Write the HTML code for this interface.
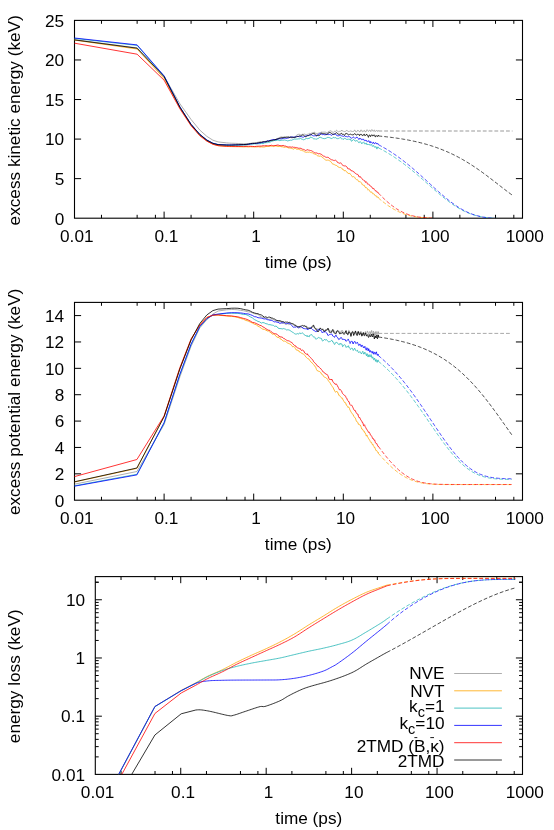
<!DOCTYPE html>
<html><head><meta charset="utf-8"><style>
html,body{margin:0;padding:0;background:#fff;}
svg{display:block;will-change:transform;}
</style></head><body>
<svg width="554" height="830" viewBox="0 0 554 830">
<rect width="554" height="830" fill="#fff"/>
<rect x="74.50" y="20.40" width="448.00" height="197.80" fill="none" stroke="#000" stroke-width="1.1"/>
<text x="76.80" y="241.50" font-family="Liberation Sans, sans-serif" font-size="17.2" text-anchor="middle">0.01</text>
<path d="M101.47,218.20 v-3.4 M101.47,20.40 v3.4" stroke="#000" stroke-width="1"/>
<path d="M137.13,218.20 v-3.4 M137.13,20.40 v3.4" stroke="#000" stroke-width="1"/>
<path d="M155.42,218.20 v-3.4 M155.42,20.40 v3.4" stroke="#000" stroke-width="1"/>
<path d="M164.10,218.20 v-6.6 M164.10,20.40 v6.6" stroke="#000" stroke-width="1"/>
<text x="166.40" y="241.50" font-family="Liberation Sans, sans-serif" font-size="17.2" text-anchor="middle">0.1</text>
<path d="M191.07,218.20 v-3.4 M191.07,20.40 v3.4" stroke="#000" stroke-width="1"/>
<path d="M226.73,218.20 v-3.4 M226.73,20.40 v3.4" stroke="#000" stroke-width="1"/>
<path d="M245.02,218.20 v-3.4 M245.02,20.40 v3.4" stroke="#000" stroke-width="1"/>
<path d="M253.70,218.20 v-6.6 M253.70,20.40 v6.6" stroke="#000" stroke-width="1"/>
<text x="256.00" y="241.50" font-family="Liberation Sans, sans-serif" font-size="17.2" text-anchor="middle">1</text>
<path d="M280.67,218.20 v-3.4 M280.67,20.40 v3.4" stroke="#000" stroke-width="1"/>
<path d="M316.33,218.20 v-3.4 M316.33,20.40 v3.4" stroke="#000" stroke-width="1"/>
<path d="M334.62,218.20 v-3.4 M334.62,20.40 v3.4" stroke="#000" stroke-width="1"/>
<path d="M343.30,218.20 v-6.6 M343.30,20.40 v6.6" stroke="#000" stroke-width="1"/>
<text x="345.60" y="241.50" font-family="Liberation Sans, sans-serif" font-size="17.2" text-anchor="middle">10</text>
<path d="M370.27,218.20 v-3.4 M370.27,20.40 v3.4" stroke="#000" stroke-width="1"/>
<path d="M405.93,218.20 v-3.4 M405.93,20.40 v3.4" stroke="#000" stroke-width="1"/>
<path d="M424.22,218.20 v-3.4 M424.22,20.40 v3.4" stroke="#000" stroke-width="1"/>
<path d="M432.90,218.20 v-6.6 M432.90,20.40 v6.6" stroke="#000" stroke-width="1"/>
<text x="435.20" y="241.50" font-family="Liberation Sans, sans-serif" font-size="17.2" text-anchor="middle">100</text>
<path d="M459.87,218.20 v-3.4 M459.87,20.40 v3.4" stroke="#000" stroke-width="1"/>
<path d="M495.53,218.20 v-3.4 M495.53,20.40 v3.4" stroke="#000" stroke-width="1"/>
<path d="M513.82,218.20 v-3.4 M513.82,20.40 v3.4" stroke="#000" stroke-width="1"/>
<text x="524.80" y="241.50" font-family="Liberation Sans, sans-serif" font-size="17.2" text-anchor="middle">1000</text>
<text x="64.20" y="224.50" font-family="Liberation Sans, sans-serif" font-size="17.2" text-anchor="end">0</text>
<path d="M74.50,178.64 h6.6 M522.50,178.64 h-6.6" stroke="#000" stroke-width="1"/>
<text x="64.20" y="184.94" font-family="Liberation Sans, sans-serif" font-size="17.2" text-anchor="end">5</text>
<path d="M74.50,139.08 h6.6 M522.50,139.08 h-6.6" stroke="#000" stroke-width="1"/>
<text x="64.20" y="145.38" font-family="Liberation Sans, sans-serif" font-size="17.2" text-anchor="end">10</text>
<path d="M74.50,99.52 h6.6 M522.50,99.52 h-6.6" stroke="#000" stroke-width="1"/>
<text x="64.20" y="105.82" font-family="Liberation Sans, sans-serif" font-size="17.2" text-anchor="end">15</text>
<path d="M74.50,59.96 h6.6 M522.50,59.96 h-6.6" stroke="#000" stroke-width="1"/>
<text x="64.20" y="66.26" font-family="Liberation Sans, sans-serif" font-size="17.2" text-anchor="end">20</text>
<text x="64.20" y="26.70" font-family="Liberation Sans, sans-serif" font-size="17.2" text-anchor="end">25</text>
<text transform="translate(20.00,120.30) rotate(-90)" font-family="Liberation Sans, sans-serif" font-size="17.2" text-anchor="middle">excess kinetic energy (keV)</text>
<text x="298.30" y="267.80" font-family="Liberation Sans, sans-serif" font-size="17.2" text-anchor="middle">time (ps)</text>
<path d="M74.50,39.60 L137.10,47.90 L164.10,76.20 L179.90,103.80 L191.10,119.50 L199.80,130.10 L206.90,136.40 L212.90,140.20 L218.10,141.90 L226.70,142.90 L228.20,143.02 L229.70,143.13 L231.20,143.22 L232.00,143.26 L235.26,143.35 L238.26,143.51 L241.05,143.66 L243.66,143.80 L246.10,143.70 L248.39,143.59 L250.56,143.36 L252.62,142.89 L254.57,142.70 L256.43,142.57 L258.20,142.22 L259.89,141.79 L261.52,142.13 L263.08,142.00 L264.58,141.66 L266.02,141.20 L267.41,141.06 L268.76,140.86 L270.06,140.83 L271.32,140.49 L272.53,139.89 L273.71,139.70 L274.86,139.61 L275.97,139.30 L277.06,138.55 L278.11,138.37 L279.14,137.58 L280.13,137.29 L281.11,136.85 L282.06,137.11 L282.99,137.20 L283.89,136.96 L284.78,136.73 L285.64,136.64 L286.49,136.93 L287.32,136.94 L288.13,136.60 L288.93,136.60 L289.70,137.19 L290.47,136.77 L291.22,136.62 L291.95,136.79 L292.67,136.77 L293.38,136.88 L294.08,137.01 L294.76,136.59 L295.43,136.59 L296.09,135.61 L296.74,135.21 L297.38,134.70 L298.01,134.48 L298.63,134.30 L299.23,134.30 L299.83,134.30 L300.42,134.92 L301.01,134.87 L301.58,134.54 L302.14,134.42 L302.70,134.24 L303.25,134.40 L303.79,134.24 L304.32,134.15 L304.85,134.06 L305.37,134.32 L305.88,134.76 L306.38,134.70 L306.88,134.35 L307.38,134.43 L307.86,133.99 L308.34,134.03 L308.82,133.90 L309.29,133.52 L309.75,133.40 L310.21,133.52 L310.66,133.49 L311.11,133.23 L311.55,133.18 L311.99,132.91 L312.42,132.83 L312.85,132.64 L313.27,132.58 L313.69,132.77 L314.11,132.05 L314.52,132.02 L314.92,132.67 L315.32,133.30 L315.72,133.40 L316.11,133.85 L316.50,133.33 L317.27,133.55 L318.02,133.17 L318.76,133.18 L319.48,132.83 L320.20,132.55 L320.89,132.46 L321.58,132.08 L322.25,132.06 L322.92,132.53 L323.57,132.14 L324.21,132.05 L324.84,132.21 L325.46,132.15 L326.07,132.73 L326.67,132.54 L327.26,132.50 L327.85,132.20 L328.42,131.71 L328.99,131.02 L329.55,131.22 L330.10,130.89 L330.64,130.86 L331.17,130.81 L331.70,131.43 L332.22,132.00 L332.74,132.27 L333.24,132.38 L333.74,132.14 L334.24,131.58 L334.73,131.23 L335.21,131.33 L335.68,131.47 L336.15,130.66 L336.62,130.27 L337.08,130.65 L337.53,131.24 L337.98,131.65 L338.43,131.81 L338.86,131.83 L339.30,131.39 L339.73,131.32 L340.15,131.44 L340.57,131.27 L340.99,130.70 L341.40,130.71 L341.80,130.00 L342.21,130.79 L342.60,131.02 L343.00,131.16 L343.39,131.17 L343.77,131.56 L344.16,131.55 L344.54,131.59 L344.91,131.54 L345.28,131.53 L345.65,131.27 L346.01,130.69 L346.38,130.59 L346.73,130.50 L347.09,130.65 L347.44,130.89 L347.79,131.00 L348.13,131.30 L348.48,131.53 L348.81,131.41 L349.15,130.95 L349.48,131.28 L349.81,131.34 L350.14,131.04 L350.47,130.95 L350.95,130.65 L351.43,131.09 L351.90,131.29 L352.36,131.95 L352.82,131.40 L353.28,131.37 L353.73,131.32 L354.17,130.84 L354.61,130.07 L355.04,130.19 L355.47,131.41 L355.90,131.96 L356.32,131.92 L356.73,131.85 L357.14,131.12 L357.55,130.35 L357.95,130.05 L358.35,130.55 L358.75,131.11 L359.14,131.23 L359.52,131.77 L359.91,132.15 L360.28,131.30 L360.66,130.17 L361.03,130.25 L361.40,130.22 L361.77,130.12 L362.13,131.42 L362.48,131.93 L362.84,131.93 L363.19,131.33 L363.54,131.10 L363.89,130.93 L364.23,130.36 L364.57,130.44 L364.90,131.55 L365.24,131.85 L365.57,131.02 L365.90,131.54 L366.22,131.40 L366.54,130.42 L366.86,129.79 L367.18,129.84 L367.50,130.25 L367.81,130.36 L368.12,131.07 L368.42,131.57 L368.73,131.27 L369.03,130.55 L369.33,130.35 L369.63,130.36 L369.93,130.25 L370.22,130.38 L370.51,130.95 L370.80,131.69 L371.09,130.34 L371.37,130.20 L371.65,130.11 L371.93,129.61 L372.21,129.98 L372.49,130.21 L372.76,131.01 L373.04,131.26 L373.31,131.39 L373.58,130.72 L373.84,130.32 L374.11,129.91 L374.37,129.95 L374.63,130.77 L374.89,131.51 L375.15,131.44 L375.41,131.48 L375.66,131.13 L375.92,130.92 L376.17,130.48 L376.42,130.49 L376.67,130.25 L376.91,130.68 L377.16,131.21 L377.40,131.56 L377.65,131.15 L377.89,130.58 L378.13,130.30 L378.36,130.47 L378.40,130.70" fill="none" stroke="#999999" stroke-width="0.8" stroke-linejoin="round"/>
<path d="M74.50,40.10 L137.10,49.00 L164.10,78.50 L179.90,108.00 L191.10,125.20 L199.80,135.30 L206.90,140.90 L212.90,144.10 L218.10,145.60 L226.70,146.40 L228.20,146.49 L229.70,146.55 L231.20,146.60 L232.00,146.62 L235.26,146.69 L238.26,146.73 L241.05,146.77 L243.66,146.91 L246.10,146.75 L248.39,146.98 L250.56,146.76 L252.62,146.88 L254.57,146.83 L256.43,146.96 L258.20,146.74 L259.89,147.02 L261.52,146.89 L263.08,147.02 L264.58,146.95 L266.02,146.47 L267.41,146.40 L268.76,146.40 L270.06,145.98 L271.32,146.24 L272.53,146.23 L273.71,146.56 L274.86,145.97 L275.97,145.90 L277.06,146.17 L278.11,146.59 L279.14,146.34 L280.13,146.18 L281.11,146.72 L282.06,146.64 L282.99,147.00 L283.89,147.13 L284.78,147.32 L285.64,147.02 L286.49,147.15 L287.32,147.48 L288.13,147.76 L288.93,148.07 L289.70,148.00 L290.47,148.15 L291.22,148.21 L291.95,148.65 L292.67,148.72 L293.38,149.18 L294.08,148.73 L294.76,148.40 L295.43,148.44 L296.09,148.80 L296.74,149.28 L297.38,149.23 L298.01,149.25 L298.63,149.10 L299.23,149.70 L299.83,149.59 L300.42,150.13 L301.01,149.98 L301.58,150.27 L302.14,150.44 L302.70,150.77 L303.25,150.96 L303.79,151.11 L304.32,151.60 L304.85,151.94 L305.37,152.15 L305.88,152.08 L306.38,152.30 L306.88,152.28 L307.38,152.14 L307.86,152.12 L308.34,152.25 L308.82,152.17 L309.29,151.95 L309.75,152.21 L310.21,152.45 L310.66,152.57 L311.11,152.75 L311.55,152.64 L311.99,152.95 L312.42,152.85 L312.85,153.13 L313.27,153.52 L313.69,153.67 L314.11,153.76 L314.52,154.16 L314.92,154.20 L315.32,154.20 L315.72,154.52 L316.11,154.58 L316.50,155.04 L317.27,155.62 L318.02,156.01 L318.76,155.99 L319.48,156.26 L320.20,156.11 L320.89,155.94 L321.58,156.36 L322.25,157.45 L322.92,157.81 L323.57,158.29 L324.21,158.91 L324.84,159.36 L325.46,159.90 L326.07,160.20 L326.67,160.22 L327.26,160.07 L327.85,160.16 L328.42,160.16 L328.99,160.72 L329.55,160.74 L330.10,160.95 L330.64,161.43 L331.17,162.07 L331.70,162.87 L332.22,163.45 L332.74,164.23 L333.24,164.28 L333.74,164.21 L334.24,164.44 L334.73,164.85 L335.21,165.14 L335.68,165.24 L336.15,165.33 L336.62,165.51 L337.08,165.74 L337.53,166.49 L337.98,166.46 L338.43,166.86 L338.86,167.23 L339.30,167.77 L339.73,167.38 L340.15,167.27 L340.57,167.53 L340.99,167.49 L341.40,167.88 L341.80,168.34 L342.21,169.22 L342.60,169.22 L343.00,169.12 L343.39,169.80 L343.77,170.09 L344.16,170.75 L344.54,170.76 L344.91,170.81 L345.28,170.32 L345.65,170.81 L346.01,171.18 L346.38,171.59 L346.73,172.06 L347.09,172.05 L347.44,172.64 L347.79,173.05 L348.13,173.31 L348.48,173.80 L348.81,173.29 L349.15,173.29 L349.48,173.44 L349.81,173.53 L350.14,174.20 L350.47,174.22 L350.95,174.66 L351.43,175.41 L351.90,176.48 L352.36,176.79 L352.82,176.74 L353.28,176.78 L353.73,176.54 L354.17,176.75 L354.61,177.25 L355.04,178.09 L355.47,178.86 L355.90,179.00 L356.32,179.41 L356.73,179.66 L357.14,179.64 L357.55,179.73 L357.95,180.37 L358.35,180.88 L358.75,181.65 L359.14,181.69 L359.52,181.64 L359.91,181.59 L360.28,181.69 L360.66,182.00 L361.03,182.49 L361.40,182.85 L361.77,183.46 L362.13,184.44 L362.48,184.86 L362.84,184.64 L363.19,185.17 L363.54,185.36 L363.89,185.20 L364.23,185.22 L364.57,185.79 L364.90,186.91 L365.24,187.09 L365.57,187.77 L365.90,187.94 L366.22,187.49 L366.54,187.75 L366.86,188.15 L367.18,188.26 L367.50,188.97 L367.81,189.60 L368.12,190.23 L368.42,189.90 L368.73,189.58 L369.03,189.92 L369.33,190.32 L369.63,190.70 L369.93,191.22 L370.22,191.92 L370.51,192.25 L370.80,192.11 L371.09,192.18 L371.37,192.07 L371.65,192.06 L371.93,192.14 L372.21,192.90 L372.49,193.57 L372.76,193.84 L373.04,193.73 L373.31,193.76 L373.58,193.92 L373.84,193.69 L374.11,193.99 L374.37,194.39 L374.63,195.09 L374.89,195.26 L375.15,195.79 L375.41,195.97 L375.66,195.75 L375.92,195.51 L376.17,196.09 L376.42,196.41 L376.67,196.55 L376.91,197.19 L377.16,197.38 L377.40,196.95 L377.65,196.85 L377.89,196.88 L378.13,197.25 L378.36,197.36 L378.40,197.90" fill="none" stroke="#ffa500" stroke-width="0.8" stroke-linejoin="round"/>
<path d="M74.50,38.40 L137.10,45.40 L164.10,76.20 L179.90,107.10 L191.10,124.50 L199.80,134.50 L206.90,140.20 L212.90,143.40 L218.10,144.70 L226.70,145.20 L228.20,145.23 L229.70,145.25 L231.20,145.25 L232.00,145.24 L235.26,145.22 L238.26,145.25 L241.05,145.08 L243.66,145.11 L246.10,145.07 L248.39,144.46 L250.56,144.25 L252.62,144.12 L254.57,143.84 L256.43,143.96 L258.20,143.78 L259.89,143.71 L261.52,143.43 L263.08,143.66 L264.58,142.85 L266.02,142.67 L267.41,142.66 L268.76,142.24 L270.06,142.10 L271.32,141.46 L272.53,141.10 L273.71,140.69 L274.86,140.43 L275.97,140.65 L277.06,140.12 L278.11,140.03 L279.14,140.55 L280.13,140.52 L281.11,140.31 L282.06,140.11 L282.99,140.13 L283.89,140.16 L284.78,139.95 L285.64,140.27 L286.49,140.49 L287.32,140.90 L288.13,140.74 L288.93,140.62 L289.70,140.41 L290.47,140.20 L291.22,140.31 L291.95,140.13 L292.67,139.72 L293.38,139.46 L294.08,139.05 L294.76,139.04 L295.43,139.15 L296.09,139.10 L296.74,139.09 L297.38,139.05 L298.01,138.80 L298.63,138.90 L299.23,139.02 L299.83,138.50 L300.42,138.14 L301.01,138.90 L301.58,139.07 L302.14,139.41 L302.70,139.32 L303.25,139.68 L303.79,139.75 L304.32,139.53 L304.85,139.43 L305.37,139.03 L305.88,138.89 L306.38,138.23 L306.88,138.45 L307.38,138.82 L307.86,138.22 L308.34,138.71 L308.82,138.12 L309.29,138.24 L309.75,138.27 L310.21,137.27 L310.66,137.10 L311.11,137.34 L311.55,137.46 L311.99,137.40 L312.42,137.66 L312.85,138.28 L313.27,138.55 L313.69,138.90 L314.11,139.01 L314.52,138.89 L314.92,138.65 L315.32,138.75 L315.72,139.21 L316.11,139.04 L316.50,139.14 L317.27,138.78 L318.02,138.51 L318.76,138.17 L319.48,137.43 L320.20,137.29 L320.89,137.49 L321.58,137.81 L322.25,137.92 L322.92,138.65 L323.57,138.53 L324.21,138.46 L324.84,138.78 L325.46,138.45 L326.07,138.52 L326.67,137.70 L327.26,137.42 L327.85,137.54 L328.42,137.48 L328.99,137.53 L329.55,137.68 L330.10,137.74 L330.64,138.26 L331.17,138.44 L331.70,138.54 L332.22,138.40 L332.74,137.78 L333.24,137.76 L333.74,137.23 L334.24,137.50 L334.73,138.07 L335.21,137.85 L335.68,137.50 L336.15,138.18 L336.62,138.43 L337.08,138.69 L337.53,138.61 L337.98,138.45 L338.43,138.44 L338.86,138.56 L339.30,138.16 L339.73,138.00 L340.15,137.52 L340.57,137.27 L340.99,138.13 L341.40,138.72 L341.80,138.93 L342.21,138.77 L342.60,138.91 L343.00,139.35 L343.39,139.33 L343.77,139.16 L344.16,138.56 L344.54,138.14 L344.91,137.93 L345.28,138.44 L345.65,138.86 L346.01,138.82 L346.38,139.37 L346.73,139.36 L347.09,139.36 L347.44,139.35 L347.79,139.53 L348.13,139.58 L348.48,139.21 L348.81,138.78 L349.15,139.24 L349.48,139.46 L349.81,139.13 L350.14,139.00 L350.47,139.01 L350.95,140.32 L351.43,141.28 L351.90,141.06 L352.36,140.36 L352.82,140.30 L353.28,139.65 L353.73,139.38 L354.17,139.95 L354.61,140.53 L355.04,140.45 L355.47,141.19 L355.90,141.26 L356.32,140.73 L356.73,140.50 L357.14,140.43 L357.55,141.07 L357.95,141.60 L358.35,142.15 L358.75,142.69 L359.14,142.81 L359.52,142.16 L359.91,141.58 L360.28,141.73 L360.66,142.12 L361.03,142.26 L361.40,143.04 L361.77,143.84 L362.13,143.36 L362.48,142.79 L362.84,142.54 L363.19,142.16 L363.54,142.01 L363.89,142.35 L364.23,143.26 L364.57,143.95 L364.90,143.70 L365.24,143.74 L365.57,143.87 L365.90,143.09 L366.22,142.97 L366.54,143.63 L366.86,144.71 L367.18,144.28 L367.50,144.30 L367.81,144.51 L368.12,144.82 L368.42,144.32 L368.73,144.00 L369.03,144.41 L369.33,144.45 L369.63,144.86 L369.93,144.99 L370.22,145.31 L370.51,144.82 L370.80,144.55 L371.09,144.61 L371.37,144.25 L371.65,144.45 L371.93,145.45 L372.21,146.27 L372.49,146.32 L372.76,145.98 L373.04,146.17 L373.31,146.02 L373.58,145.54 L373.84,146.07 L374.11,146.77 L374.37,146.89 L374.63,146.96 L374.89,147.04 L375.15,147.44 L375.41,146.72 L375.66,146.57 L375.92,146.87 L376.17,146.79 L376.42,147.15 L376.67,148.38 L376.91,149.11 L377.16,148.31 L377.40,147.71 L377.65,147.01 L377.89,147.12 L378.13,146.95 L378.36,147.62 L378.40,147.90" fill="none" stroke="#20b4b4" stroke-width="0.8" stroke-linejoin="round"/>
<path d="M74.50,38.00 L137.10,44.90 L164.10,75.90 L179.90,106.90 L191.10,124.30 L199.80,134.30 L206.90,140.00 L212.90,143.20 L218.10,144.50 L226.70,144.90 L228.20,144.92 L229.70,144.91 L231.20,144.89 L232.00,144.88 L235.26,144.79 L238.26,144.71 L241.05,144.68 L243.66,144.58 L246.10,144.50 L248.39,144.28 L250.56,143.84 L252.62,143.65 L254.57,143.44 L256.43,143.53 L258.20,143.08 L259.89,143.02 L261.52,142.59 L263.08,142.18 L264.58,141.96 L266.02,141.62 L267.41,140.96 L268.76,140.84 L270.06,140.39 L271.32,140.10 L272.53,139.63 L273.71,139.47 L274.86,139.68 L275.97,139.59 L277.06,139.11 L278.11,139.04 L279.14,138.71 L280.13,138.78 L281.11,138.99 L282.06,138.41 L282.99,138.39 L283.89,138.19 L284.78,138.15 L285.64,138.14 L286.49,138.49 L287.32,138.24 L288.13,137.99 L288.93,137.87 L289.70,137.32 L290.47,137.34 L291.22,137.03 L291.95,137.01 L292.67,137.11 L293.38,137.30 L294.08,137.28 L294.76,137.07 L295.43,136.85 L296.09,136.85 L296.74,136.64 L297.38,136.43 L298.01,136.43 L298.63,136.59 L299.23,136.87 L299.83,136.54 L300.42,136.51 L301.01,136.34 L301.58,136.73 L302.14,136.86 L302.70,137.17 L303.25,136.99 L303.79,137.21 L304.32,136.71 L304.85,136.19 L305.37,136.17 L305.88,135.70 L306.38,135.92 L306.88,135.46 L307.38,135.50 L307.86,135.93 L308.34,135.41 L308.82,135.42 L309.29,135.00 L309.75,134.77 L310.21,134.53 L310.66,134.30 L311.11,134.75 L311.55,134.90 L311.99,135.19 L312.42,135.49 L312.85,135.68 L313.27,135.84 L313.69,135.85 L314.11,135.86 L314.52,135.81 L314.92,136.03 L315.32,135.59 L315.72,135.80 L316.11,135.87 L316.50,135.98 L317.27,135.49 L318.02,134.91 L318.76,133.86 L319.48,133.95 L320.20,133.28 L320.89,134.11 L321.58,134.13 L322.25,134.42 L322.92,134.87 L323.57,134.44 L324.21,134.72 L324.84,134.72 L325.46,134.85 L326.07,133.96 L326.67,134.24 L327.26,134.37 L327.85,134.28 L328.42,134.59 L328.99,134.38 L329.55,134.44 L330.10,134.44 L330.64,134.75 L331.17,135.12 L331.70,135.39 L332.22,134.78 L332.74,134.41 L333.24,134.35 L333.74,134.15 L334.24,134.23 L334.73,134.16 L335.21,134.13 L335.68,134.08 L336.15,134.90 L336.62,135.28 L337.08,135.87 L337.53,135.78 L337.98,135.64 L338.43,135.68 L338.86,136.02 L339.30,135.73 L339.73,135.26 L340.15,135.44 L340.57,135.15 L340.99,135.41 L341.40,135.70 L341.80,135.90 L342.21,135.95 L342.60,136.22 L343.00,136.54 L343.39,136.43 L343.77,136.26 L344.16,135.85 L344.54,135.68 L344.91,136.24 L345.28,136.38 L345.65,136.56 L346.01,136.75 L346.38,136.42 L346.73,136.87 L347.09,137.00 L347.44,136.91 L347.79,136.69 L348.13,136.82 L348.48,136.45 L348.81,136.46 L349.15,136.61 L349.48,136.61 L349.81,136.81 L350.14,136.87 L350.47,137.50 L350.95,137.84 L351.43,138.25 L351.90,137.86 L352.36,137.90 L352.82,137.36 L353.28,136.99 L353.73,137.25 L354.17,137.60 L354.61,138.11 L355.04,138.21 L355.47,138.10 L355.90,138.17 L356.32,137.72 L356.73,137.03 L357.14,137.08 L357.55,137.75 L357.95,138.14 L358.35,138.56 L358.75,139.43 L359.14,139.37 L359.52,138.38 L359.91,138.21 L360.28,138.71 L360.66,138.32 L361.03,138.95 L361.40,139.82 L361.77,139.90 L362.13,139.40 L362.48,139.11 L362.84,139.55 L363.19,139.30 L363.54,138.96 L363.89,139.86 L364.23,140.53 L364.57,140.61 L364.90,140.78 L365.24,140.49 L365.57,140.56 L365.90,140.05 L366.22,140.23 L366.54,141.13 L366.86,141.31 L367.18,141.34 L367.50,141.67 L367.81,141.42 L368.12,140.84 L368.42,140.74 L368.73,141.31 L369.03,140.86 L369.33,141.59 L369.63,142.57 L369.93,142.92 L370.22,142.98 L370.51,141.69 L370.80,141.68 L371.09,141.76 L371.37,142.17 L371.65,142.33 L371.93,142.88 L372.21,142.92 L372.49,143.34 L372.76,143.32 L373.04,143.05 L373.31,142.19 L373.58,142.37 L373.84,143.30 L374.11,143.63 L374.37,143.46 L374.63,143.91 L374.89,143.76 L375.15,143.31 L375.41,142.71 L375.66,142.60 L375.92,142.94 L376.17,142.97 L376.42,143.30 L376.67,143.91 L376.91,144.16 L377.16,143.48 L377.40,143.62 L377.65,143.99 L377.89,143.71 L378.13,143.89 L378.36,144.41 L378.40,144.60" fill="none" stroke="#0000ff" stroke-width="0.8" stroke-linejoin="round"/>
<path d="M74.50,43.20 L137.10,54.20 L164.10,80.20 L179.90,108.80 L191.10,125.80 L199.80,135.80 L206.90,141.20 L212.90,144.30 L218.10,145.70 L226.70,146.30 L228.20,146.35 L229.70,146.37 L231.20,146.38 L232.00,146.39 L235.26,146.38 L238.26,146.47 L241.05,146.38 L243.66,146.41 L246.10,146.38 L248.39,146.25 L250.56,146.29 L252.62,146.41 L254.57,146.62 L256.43,146.29 L258.20,146.18 L259.89,146.14 L261.52,146.06 L263.08,145.74 L264.58,145.82 L266.02,145.67 L267.41,145.79 L268.76,145.78 L270.06,145.67 L271.32,145.26 L272.53,145.58 L273.71,145.61 L274.86,145.60 L275.97,145.41 L277.06,145.16 L278.11,145.01 L279.14,145.53 L280.13,145.62 L281.11,145.84 L282.06,145.65 L282.99,145.52 L283.89,145.62 L284.78,146.14 L285.64,146.09 L286.49,146.47 L287.32,146.74 L288.13,146.96 L288.93,147.10 L289.70,146.88 L290.47,147.01 L291.22,147.15 L291.95,147.25 L292.67,146.91 L293.38,147.28 L294.08,147.41 L294.76,147.27 L295.43,147.47 L296.09,147.25 L296.74,147.84 L297.38,147.84 L298.01,148.10 L298.63,148.26 L299.23,148.22 L299.83,148.27 L300.42,148.29 L301.01,148.13 L301.58,148.90 L302.14,149.30 L302.70,149.17 L303.25,149.29 L303.79,149.54 L304.32,149.67 L304.85,150.16 L305.37,150.44 L305.88,150.41 L306.38,150.14 L306.88,150.14 L307.38,149.87 L307.86,149.56 L308.34,150.18 L308.82,150.09 L309.29,150.16 L309.75,150.40 L310.21,150.50 L310.66,150.55 L311.11,150.56 L311.55,150.81 L311.99,151.03 L312.42,151.33 L312.85,151.39 L313.27,151.68 L313.69,152.06 L314.11,152.58 L314.52,152.81 L314.92,152.85 L315.32,152.90 L315.72,153.03 L316.11,153.12 L316.50,152.89 L317.27,153.21 L318.02,153.73 L318.76,153.83 L319.48,153.63 L320.20,153.85 L320.89,154.13 L321.58,154.41 L322.25,155.19 L322.92,155.62 L323.57,156.10 L324.21,156.15 L324.84,156.57 L325.46,157.01 L326.07,157.52 L326.67,157.31 L327.26,157.35 L327.85,157.22 L328.42,157.51 L328.99,157.86 L329.55,158.61 L330.10,159.15 L330.64,158.94 L331.17,159.51 L331.70,160.07 L332.22,159.76 L332.74,160.16 L333.24,160.32 L333.74,160.40 L334.24,160.37 L334.73,160.52 L335.21,160.06 L335.68,160.41 L336.15,160.55 L336.62,161.00 L337.08,161.72 L337.53,162.46 L337.98,162.36 L338.43,162.80 L338.86,162.87 L339.30,163.09 L339.73,163.26 L340.15,163.18 L340.57,162.74 L340.99,163.03 L341.40,163.67 L341.80,164.21 L342.21,164.61 L342.60,165.32 L343.00,165.49 L343.39,165.59 L343.77,165.88 L344.16,166.12 L344.54,165.86 L344.91,165.54 L345.28,165.71 L345.65,165.83 L346.01,166.24 L346.38,166.77 L346.73,166.73 L347.09,167.05 L347.44,167.83 L347.79,168.74 L348.13,168.94 L348.48,168.87 L348.81,168.75 L349.15,169.02 L349.48,168.76 L349.81,169.04 L350.14,169.78 L350.47,169.85 L350.95,170.02 L351.43,170.91 L351.90,171.01 L352.36,170.98 L352.82,171.25 L353.28,171.56 L353.73,171.48 L354.17,172.11 L354.61,172.95 L355.04,173.37 L355.47,173.36 L355.90,173.77 L356.32,174.08 L356.73,174.06 L357.14,174.10 L357.55,174.39 L357.95,175.08 L358.35,175.13 L358.75,176.28 L359.14,177.00 L359.52,177.08 L359.91,176.46 L360.28,176.64 L360.66,177.44 L361.03,177.83 L361.40,177.93 L361.77,178.35 L362.13,178.68 L362.48,179.36 L362.84,179.77 L363.19,179.72 L363.54,180.15 L363.89,180.57 L364.23,180.65 L364.57,180.90 L364.90,180.76 L365.24,181.68 L365.57,182.41 L365.90,181.93 L366.22,181.69 L366.54,182.08 L366.86,182.56 L367.18,183.33 L367.50,184.13 L367.81,184.37 L368.12,184.56 L368.42,184.27 L368.73,184.30 L369.03,184.46 L369.33,184.75 L369.63,184.83 L369.93,185.63 L370.22,186.03 L370.51,186.35 L370.80,186.20 L371.09,186.44 L371.37,186.59 L371.65,186.82 L371.93,186.99 L372.21,187.81 L372.49,188.39 L372.76,188.70 L373.04,188.87 L373.31,188.71 L373.58,188.39 L373.84,188.38 L374.11,189.22 L374.37,189.58 L374.63,189.95 L374.89,190.12 L375.15,190.65 L375.41,190.83 L375.66,190.64 L375.92,190.48 L376.17,190.95 L376.42,191.52 L376.67,191.96 L376.91,192.25 L377.16,192.20 L377.40,192.04 L377.65,191.97 L377.89,192.43 L378.13,192.54 L378.36,193.11 L378.40,193.00" fill="none" stroke="#ff0000" stroke-width="0.8" stroke-linejoin="round"/>
<path d="M74.50,39.90 L137.10,48.20 L164.10,76.80 L179.90,107.20 L191.10,124.60 L199.80,134.60 L206.90,140.30 L212.90,143.40 L218.10,144.70 L226.70,145.10 L228.20,145.12 L229.70,145.12 L231.20,145.10 L232.00,145.08 L235.26,144.92 L238.26,144.80 L241.05,144.64 L243.66,144.54 L246.10,144.43 L248.39,144.13 L250.56,143.64 L252.62,143.45 L254.57,143.44 L256.43,143.19 L258.20,142.90 L259.89,142.41 L261.52,142.25 L263.08,141.79 L264.58,141.76 L266.02,141.92 L267.41,141.18 L268.76,141.36 L270.06,140.72 L271.32,140.40 L272.53,140.44 L273.71,140.03 L274.86,139.84 L275.97,139.34 L277.06,139.25 L278.11,138.78 L279.14,138.45 L280.13,138.15 L281.11,137.72 L282.06,137.84 L282.99,137.67 L283.89,137.59 L284.78,137.40 L285.64,137.58 L286.49,137.24 L287.32,137.28 L288.13,137.16 L288.93,137.39 L289.70,137.53 L290.47,137.16 L291.22,137.59 L291.95,137.62 L292.67,137.62 L293.38,137.50 L294.08,137.47 L294.76,137.49 L295.43,137.20 L296.09,137.23 L296.74,136.57 L297.38,136.46 L298.01,136.39 L298.63,136.37 L299.23,136.11 L299.83,135.66 L300.42,135.96 L301.01,135.68 L301.58,135.63 L302.14,135.21 L302.70,134.91 L303.25,135.04 L303.79,135.49 L304.32,135.95 L304.85,136.20 L305.37,136.65 L305.88,136.76 L306.38,136.20 L306.88,136.06 L307.38,135.63 L307.86,135.89 L308.34,135.66 L308.82,135.38 L309.29,135.18 L309.75,135.12 L310.21,135.11 L310.66,134.89 L311.11,134.67 L311.55,134.31 L311.99,134.19 L312.42,133.65 L312.85,133.56 L313.27,133.62 L313.69,133.32 L314.11,133.18 L314.52,134.15 L314.92,134.30 L315.32,134.56 L315.72,135.04 L316.11,135.50 L316.50,135.33 L317.27,135.22 L318.02,135.43 L318.76,135.61 L319.48,135.42 L320.20,134.76 L320.89,133.59 L321.58,133.16 L322.25,133.36 L322.92,133.66 L323.57,133.64 L324.21,133.69 L324.84,133.68 L325.46,133.92 L326.07,134.05 L326.67,134.57 L327.26,134.28 L327.85,133.93 L328.42,132.81 L328.99,132.54 L329.55,132.51 L330.10,132.71 L330.64,132.72 L331.17,133.11 L331.70,133.44 L332.22,134.11 L332.74,134.26 L333.24,134.43 L333.74,134.20 L334.24,133.86 L334.73,133.94 L335.21,133.50 L335.68,133.33 L336.15,133.03 L336.62,132.61 L337.08,132.92 L337.53,133.57 L337.98,134.32 L338.43,134.22 L338.86,134.20 L339.30,134.15 L339.73,134.40 L340.15,134.35 L340.57,134.03 L340.99,133.43 L341.40,133.33 L341.80,133.41 L342.21,134.33 L342.60,134.45 L343.00,134.44 L343.39,134.39 L343.77,134.43 L344.16,134.80 L344.54,135.37 L344.91,134.94 L345.28,134.02 L345.65,133.48 L346.01,133.38 L346.38,133.33 L346.73,133.75 L347.09,134.06 L347.44,133.70 L347.79,134.32 L348.13,134.86 L348.48,134.91 L348.81,134.94 L349.15,134.61 L349.48,134.54 L349.81,134.36 L350.14,134.28 L350.47,134.12 L350.95,134.08 L351.43,134.62 L351.90,135.08 L352.36,135.14 L352.82,134.43 L353.28,134.63 L353.73,134.70 L354.17,134.10 L354.61,133.53 L355.04,134.18 L355.47,134.37 L355.90,134.53 L356.32,135.12 L356.73,135.19 L357.14,134.40 L357.55,134.29 L357.95,134.14 L358.35,134.48 L358.75,134.09 L359.14,134.59 L359.52,135.69 L359.91,135.01 L360.28,134.36 L360.66,134.22 L361.03,134.69 L361.40,134.30 L361.77,134.48 L362.13,135.24 L362.48,135.96 L362.84,135.57 L363.19,135.37 L363.54,134.94 L363.89,134.14 L364.23,134.03 L364.57,134.69 L364.90,135.77 L365.24,135.62 L365.57,135.29 L365.90,135.30 L366.22,135.09 L366.54,134.07 L366.86,134.48 L367.18,134.74 L367.50,135.52 L367.81,135.82 L368.12,136.54 L368.42,137.35 L368.73,136.15 L369.03,135.15 L369.33,135.21 L369.63,134.98 L369.93,135.06 L370.22,136.10 L370.51,136.69 L370.80,136.17 L371.09,135.57 L371.37,135.22 L371.65,134.89 L371.93,134.63 L372.21,135.00 L372.49,135.94 L372.76,135.81 L373.04,135.80 L373.31,135.67 L373.58,135.54 L373.84,134.93 L374.11,134.71 L374.37,135.38 L374.63,136.13 L374.89,136.47 L375.15,136.78 L375.41,136.94 L375.66,136.15 L375.92,135.47 L376.17,135.55 L376.42,135.66 L376.67,136.05 L376.91,136.30 L377.16,136.43 L377.40,136.74 L377.65,136.39 L377.89,135.69 L378.13,135.60 L378.36,135.12 L378.40,135.95" fill="none" stroke="#000000" stroke-width="0.8" stroke-linejoin="round"/>
<clipPath id="cp1"><rect x="74.5" y="20.4" width="448" height="197.7"/></clipPath><g clip-path="url(#cp1)">
<path d="M378.40,131.00 L512.50,131.00" fill="none" stroke="#999999" stroke-width="1.0" stroke-linejoin="round" stroke-dasharray="3.8 2"/>
<path d="M378.40,197.99 L380.40,199.69 L382.40,201.32 L384.40,202.89 L386.40,204.38 L388.40,205.79 L390.40,207.12 L392.40,208.37 L394.40,209.54 L396.40,210.61 L398.40,211.60 L400.40,212.51 L402.40,213.33 L404.40,214.06 L406.40,214.72 L408.40,215.30 L410.40,215.81 L412.40,216.25 L414.40,216.63 L416.40,216.95 L418.40,217.22 L420.40,217.44 L422.40,217.62 L424.40,217.77 L426.40,217.89 L428.40,217.98 L430.40,218.05 L432.00,218.10" fill="none" stroke="#ffa500" stroke-width="0.7" stroke-linejoin="round" stroke-dasharray="3.8 2"/>
<path d="M378.40,147.86 L380.40,148.89 L382.40,149.96 L384.40,151.07 L386.40,152.22 L388.40,153.41 L390.40,154.64 L392.40,155.91 L394.40,157.22 L396.40,158.56 L398.40,159.95 L400.40,161.38 L402.40,162.84 L404.40,164.34 L406.40,165.87 L408.40,167.44 L410.40,169.05 L412.40,170.68 L414.40,172.34 L416.40,174.02 L418.40,175.73 L420.40,177.46 L422.40,179.20 L424.40,180.96 L426.40,182.72 L428.40,184.49 L430.40,186.26 L432.40,188.02 L434.40,189.77 L436.40,191.50 L438.40,193.21 L440.40,194.90 L442.40,196.56 L444.40,198.17 L446.40,199.75 L448.40,201.28 L450.40,202.75 L452.40,204.17 L454.40,205.52 L456.40,206.81 L458.40,208.03 L460.40,209.18 L462.40,210.25 L464.40,211.25 L466.40,212.17 L468.40,213.02 L470.40,213.79 L472.40,214.48 L474.40,215.11 L476.40,215.66 L478.40,216.15 L480.40,216.58 L482.40,216.95 L484.40,217.27 L486.40,217.53 L488.40,217.76 L490.40,217.94 L492.40,218.09 L494.40,218.21 L496.40,218.31 L497.00,218.33" fill="none" stroke="#20b4b4" stroke-width="0.7" stroke-linejoin="round" stroke-dasharray="3.8 2"/>
<path d="M378.40,144.67 L380.40,145.73 L382.40,146.82 L384.40,147.96 L386.40,149.14 L388.40,150.35 L390.40,151.61 L392.40,152.91 L394.40,154.26 L396.40,155.64 L398.40,157.07 L400.40,158.53 L402.40,160.03 L404.40,161.58 L406.40,163.16 L408.40,164.78 L410.40,166.43 L412.40,168.11 L414.40,169.83 L416.40,171.57 L418.40,173.34 L420.40,175.13 L422.40,176.94 L424.40,178.76 L426.40,180.59 L428.40,182.43 L430.40,184.27 L432.40,186.11 L434.40,187.94 L436.40,189.75 L438.40,191.55 L440.40,193.32 L442.40,195.06 L444.40,196.76 L446.40,198.43 L448.40,200.04 L450.40,201.60 L452.40,203.11 L454.40,204.55 L456.40,205.92 L458.40,207.23 L460.40,208.46 L462.40,209.62 L464.40,210.70 L466.40,211.70 L468.40,212.61 L470.40,213.46 L472.40,214.22 L474.40,214.90 L476.40,215.52 L478.40,216.06 L480.40,216.53 L482.40,216.95 L484.40,217.30 L486.40,217.61 L488.40,217.86 L490.40,218.07 L492.40,218.24 L494.40,218.38 L496.40,218.50 L497.00,218.53" fill="none" stroke="#0000ff" stroke-width="0.7" stroke-linejoin="round" stroke-dasharray="3.8 2"/>
<path d="M378.40,193.07 L380.40,195.16 L382.40,197.18 L384.40,199.11 L386.40,200.95 L388.40,202.70 L390.40,204.35 L392.40,205.89 L394.40,207.34 L396.40,208.68 L398.40,209.91 L400.40,211.04 L402.40,212.07 L404.40,212.99 L406.40,213.81 L408.40,214.54 L410.40,215.18 L412.40,215.74 L414.40,216.22 L416.40,216.62 L418.40,216.97 L420.40,217.25 L422.40,217.49 L424.40,217.68 L426.40,217.83 L428.40,217.95 L430.40,218.04 L432.00,218.10" fill="none" stroke="#ff0000" stroke-width="0.7" stroke-linejoin="round" stroke-dasharray="3.8 2"/>
<path d="M378.40,135.98 L380.40,136.17 L382.40,136.38 L384.40,136.59 L386.40,136.81 L388.40,137.04 L390.40,137.28 L392.40,137.54 L394.40,137.81 L396.40,138.09 L398.40,138.39 L400.40,138.69 L402.40,139.02 L404.40,139.36 L406.40,139.72 L408.40,140.09 L410.40,140.48 L412.40,140.89 L414.40,141.32 L416.40,141.77 L418.40,142.24 L420.40,142.73 L422.40,143.24 L424.40,143.78 L426.40,144.34 L428.40,144.92 L430.40,145.54 L432.40,146.17 L434.40,146.84 L436.40,147.53 L438.40,148.25 L440.40,149.00 L442.40,149.78 L444.40,150.60 L446.40,151.44 L448.40,152.32 L450.40,153.23 L452.40,154.17 L454.40,155.15 L456.40,156.16 L458.40,157.21 L460.40,158.29 L462.40,159.41 L464.40,160.56 L466.40,161.75 L468.40,162.97 L470.40,164.23 L472.40,165.52 L474.40,166.84 L476.40,168.19 L478.40,169.57 L480.40,170.99 L482.40,172.42 L484.40,173.89 L486.40,175.37 L488.40,176.88 L490.40,178.40 L492.40,179.94 L494.40,181.48 L496.40,183.04 L498.40,184.60 L500.40,186.16 L502.40,187.71 L504.40,189.25 L506.40,190.78 L508.40,192.29 L510.40,193.78 L512.40,195.24 L512.80,195.53" fill="none" stroke="#000000" stroke-width="0.7" stroke-linejoin="round" stroke-dasharray="3.8 2"/>
</g>
<rect x="74.50" y="302.40" width="448.00" height="197.80" fill="none" stroke="#000" stroke-width="1.1"/>
<text x="76.80" y="523.50" font-family="Liberation Sans, sans-serif" font-size="17.2" text-anchor="middle">0.01</text>
<path d="M101.47,500.20 v-3.4 M101.47,302.40 v3.4" stroke="#000" stroke-width="1"/>
<path d="M137.13,500.20 v-3.4 M137.13,302.40 v3.4" stroke="#000" stroke-width="1"/>
<path d="M155.42,500.20 v-3.4 M155.42,302.40 v3.4" stroke="#000" stroke-width="1"/>
<path d="M164.10,500.20 v-6.6 M164.10,302.40 v6.6" stroke="#000" stroke-width="1"/>
<text x="166.40" y="523.50" font-family="Liberation Sans, sans-serif" font-size="17.2" text-anchor="middle">0.1</text>
<path d="M191.07,500.20 v-3.4 M191.07,302.40 v3.4" stroke="#000" stroke-width="1"/>
<path d="M226.73,500.20 v-3.4 M226.73,302.40 v3.4" stroke="#000" stroke-width="1"/>
<path d="M245.02,500.20 v-3.4 M245.02,302.40 v3.4" stroke="#000" stroke-width="1"/>
<path d="M253.70,500.20 v-6.6 M253.70,302.40 v6.6" stroke="#000" stroke-width="1"/>
<text x="256.00" y="523.50" font-family="Liberation Sans, sans-serif" font-size="17.2" text-anchor="middle">1</text>
<path d="M280.67,500.20 v-3.4 M280.67,302.40 v3.4" stroke="#000" stroke-width="1"/>
<path d="M316.33,500.20 v-3.4 M316.33,302.40 v3.4" stroke="#000" stroke-width="1"/>
<path d="M334.62,500.20 v-3.4 M334.62,302.40 v3.4" stroke="#000" stroke-width="1"/>
<path d="M343.30,500.20 v-6.6 M343.30,302.40 v6.6" stroke="#000" stroke-width="1"/>
<text x="345.60" y="523.50" font-family="Liberation Sans, sans-serif" font-size="17.2" text-anchor="middle">10</text>
<path d="M370.27,500.20 v-3.4 M370.27,302.40 v3.4" stroke="#000" stroke-width="1"/>
<path d="M405.93,500.20 v-3.4 M405.93,302.40 v3.4" stroke="#000" stroke-width="1"/>
<path d="M424.22,500.20 v-3.4 M424.22,302.40 v3.4" stroke="#000" stroke-width="1"/>
<path d="M432.90,500.20 v-6.6 M432.90,302.40 v6.6" stroke="#000" stroke-width="1"/>
<text x="435.20" y="523.50" font-family="Liberation Sans, sans-serif" font-size="17.2" text-anchor="middle">100</text>
<path d="M459.87,500.20 v-3.4 M459.87,302.40 v3.4" stroke="#000" stroke-width="1"/>
<path d="M495.53,500.20 v-3.4 M495.53,302.40 v3.4" stroke="#000" stroke-width="1"/>
<path d="M513.82,500.20 v-3.4 M513.82,302.40 v3.4" stroke="#000" stroke-width="1"/>
<text x="524.80" y="523.50" font-family="Liberation Sans, sans-serif" font-size="17.2" text-anchor="middle">1000</text>
<text x="64.20" y="506.50" font-family="Liberation Sans, sans-serif" font-size="17.2" text-anchor="end">0</text>
<path d="M74.50,473.83 h6.6 M522.50,473.83 h-6.6" stroke="#000" stroke-width="1"/>
<text x="64.20" y="480.13" font-family="Liberation Sans, sans-serif" font-size="17.2" text-anchor="end">2</text>
<path d="M74.50,447.45 h6.6 M522.50,447.45 h-6.6" stroke="#000" stroke-width="1"/>
<text x="64.20" y="453.75" font-family="Liberation Sans, sans-serif" font-size="17.2" text-anchor="end">4</text>
<path d="M74.50,421.08 h6.6 M522.50,421.08 h-6.6" stroke="#000" stroke-width="1"/>
<text x="64.20" y="427.38" font-family="Liberation Sans, sans-serif" font-size="17.2" text-anchor="end">6</text>
<path d="M74.50,394.71 h6.6 M522.50,394.71 h-6.6" stroke="#000" stroke-width="1"/>
<text x="64.20" y="401.01" font-family="Liberation Sans, sans-serif" font-size="17.2" text-anchor="end">8</text>
<path d="M74.50,368.33 h6.6 M522.50,368.33 h-6.6" stroke="#000" stroke-width="1"/>
<text x="64.20" y="374.63" font-family="Liberation Sans, sans-serif" font-size="17.2" text-anchor="end">10</text>
<path d="M74.50,341.96 h6.6 M522.50,341.96 h-6.6" stroke="#000" stroke-width="1"/>
<text x="64.20" y="348.26" font-family="Liberation Sans, sans-serif" font-size="17.2" text-anchor="end">12</text>
<path d="M74.50,315.59 h6.6 M522.50,315.59 h-6.6" stroke="#000" stroke-width="1"/>
<text x="64.20" y="321.89" font-family="Liberation Sans, sans-serif" font-size="17.2" text-anchor="end">14</text>
<text transform="translate(20.00,401.90) rotate(-90)" font-family="Liberation Sans, sans-serif" font-size="17.2" text-anchor="middle">excess potential energy (keV)</text>
<text x="298.30" y="549.80" font-family="Liberation Sans, sans-serif" font-size="17.2" text-anchor="middle">time (ps)</text>
<path d="M74.50,484.20 L136.90,471.50 L164.10,424.50 L179.90,376.80 L191.10,346.20 L199.80,327.90 L206.90,319.60 L212.90,314.10 L218.10,311.00 L226.70,309.80 L228.00,309.71 L231.59,309.48 L234.89,309.57 L237.92,309.85 L240.73,310.35 L243.36,310.71 L245.82,311.30 L248.13,311.87 L250.31,312.09 L252.38,312.83 L254.34,313.65 L256.21,314.05 L257.99,314.34 L259.70,315.97 L261.33,316.86 L262.90,317.39 L264.40,317.68 L265.85,318.37 L267.25,318.78 L268.60,319.32 L269.91,319.26 L271.17,318.77 L272.39,319.08 L273.58,319.73 L274.73,320.20 L275.84,320.11 L276.93,321.09 L277.99,320.86 L279.02,321.23 L280.02,321.19 L280.99,322.27 L281.95,323.03 L282.88,323.23 L283.79,323.40 L284.67,323.69 L285.54,324.45 L286.39,324.55 L287.22,323.93 L288.04,323.80 L288.83,324.68 L289.61,323.91 L290.38,323.68 L291.13,324.01 L291.87,324.07 L292.59,324.41 L293.30,324.90 L294.00,324.68 L294.68,325.46 L295.35,324.85 L296.01,325.36 L296.67,325.68 L297.30,326.29 L297.93,326.63 L298.55,326.94 L299.16,326.99 L299.76,327.97 L300.35,327.90 L300.94,327.48 L301.51,327.51 L302.08,327.41 L302.63,327.69 L303.18,327.17 L303.72,326.49 L304.26,325.68 L304.79,325.54 L305.31,326.01 L305.82,326.04 L306.32,325.96 L306.82,326.84 L307.32,326.90 L307.81,327.64 L308.29,327.89 L308.76,327.52 L309.23,327.48 L309.70,327.88 L310.16,328.06 L310.61,327.88 L311.06,328.05 L311.50,327.75 L311.94,327.66 L312.37,327.28 L312.80,327.07 L313.22,327.32 L313.64,326.11 L314.06,326.09 L314.47,327.20 L314.87,328.26 L315.28,328.36 L315.67,329.03 L316.07,328.14 L316.46,328.74 L317.22,328.85 L317.98,329.59 L318.72,329.11 L319.44,328.27 L320.15,328.15 L320.85,328.26 L321.54,328.83 L322.21,329.50 L322.88,328.75 L323.53,329.50 L324.17,331.02 L324.80,331.08 L325.42,331.04 L326.03,329.85 L326.64,329.75 L327.23,329.46 L327.81,328.70 L328.39,328.10 L328.95,329.91 L329.51,330.83 L330.06,331.20 L330.61,330.91 L331.14,331.71 L331.67,331.98 L332.19,330.91 L332.71,329.78 L333.21,329.64 L333.71,330.30 L334.21,331.05 L334.70,331.67 L335.18,332.40 L335.66,332.12 L336.13,332.15 L336.59,331.93 L337.05,331.04 L337.51,330.39 L337.96,330.53 L338.40,330.92 L338.84,330.60 L339.27,331.27 L339.70,332.61 L340.13,333.05 L340.55,332.07 L340.96,331.87 L341.37,330.58 L341.78,331.43 L342.18,330.85 L342.58,330.55 L342.97,331.21 L343.36,332.94 L343.75,333.23 L344.13,332.73 L344.51,332.39 L344.89,332.90 L345.26,332.74 L345.63,331.02 L345.99,330.10 L346.35,330.47 L346.71,332.07 L347.07,333.19 L347.42,333.20 L347.77,333.48 L348.11,333.62 L348.46,332.47 L348.79,330.37 L349.13,330.59 L349.46,331.60 L349.80,332.06 L350.12,332.29 L350.45,332.65 L350.93,335.19 L351.41,334.23 L351.88,332.32 L352.34,331.32 L352.80,331.29 L353.26,331.86 L353.71,334.57 L354.15,334.39 L354.59,332.65 L355.03,332.89 L355.46,331.69 L355.88,331.57 L356.30,333.68 L356.72,333.66 L357.13,334.03 L357.53,333.74 L357.94,331.37 L358.34,331.51 L358.73,332.94 L359.12,333.20 L359.51,334.74 L359.89,334.85 L360.27,331.71 L360.65,331.18 L361.02,331.63 L361.39,331.77 L361.75,335.06 L362.11,335.04 L362.47,333.52 L362.83,332.98 L363.18,332.25 L363.53,332.47 L363.87,334.13 L364.21,334.55 L364.55,334.43 L364.89,334.08 L365.22,331.68 L365.55,331.66 L365.88,332.96 L366.21,333.50 L366.53,333.86 L366.85,333.60 L367.17,331.90 L367.48,330.93 L367.80,331.89 L368.11,332.20 L368.41,333.74 L368.72,334.96 L369.02,333.70 L369.32,332.74 L369.62,332.42 L369.91,331.40 L370.21,332.12 L370.50,334.37 L370.79,332.62 L371.07,332.69 L371.36,331.82 L371.64,330.43 L371.92,332.28 L372.20,332.86 L372.48,333.71 L372.75,334.70 L373.03,333.72 L373.30,331.09 L373.57,331.86 L373.83,332.53 L374.10,333.16 L374.36,335.13 L374.62,334.79 L374.88,332.78 L375.14,332.33 L375.40,331.63 L375.65,333.84 L375.91,335.73 L376.16,334.47 L376.41,333.00 L376.66,332.82 L376.90,331.56 L377.15,332.78 L377.39,334.32 L377.64,334.04 L377.88,333.87 L378.12,333.69 L378.35,331.61 L378.40,333.20" fill="none" stroke="#999999" stroke-width="0.8" stroke-linejoin="round"/>
<path d="M74.50,482.00 L136.90,468.40 L164.10,416.40 L179.90,368.40 L191.10,339.50 L199.80,324.60 L206.90,317.40 L212.90,315.30 L218.10,315.10 L226.70,316.00 L228.00,316.12 L231.59,316.36 L234.89,316.79 L237.92,317.50 L240.73,318.53 L243.36,319.11 L245.82,320.44 L248.13,320.98 L250.31,322.15 L252.38,323.00 L254.34,324.16 L256.21,324.74 L257.99,326.20 L259.70,327.02 L261.33,328.30 L262.90,329.22 L264.40,329.37 L265.85,330.12 L267.25,330.93 L268.60,330.96 L269.91,332.12 L271.17,332.89 L272.39,334.25 L273.58,334.07 L274.73,334.73 L275.84,335.88 L276.93,337.18 L277.99,337.28 L279.02,337.47 L280.02,338.79 L280.99,339.06 L281.95,340.06 L282.88,340.66 L283.79,341.28 L284.67,341.05 L285.54,341.47 L286.39,342.17 L287.22,342.75 L288.04,343.40 L288.83,343.43 L289.61,343.85 L290.38,344.14 L291.13,345.14 L291.87,345.61 L292.59,346.83 L293.30,346.62 L294.00,346.67 L294.68,347.36 L295.35,348.52 L296.01,349.78 L296.67,349.99 L297.30,350.21 L297.93,350.05 L298.55,351.14 L299.16,351.11 L299.76,352.22 L300.35,352.19 L300.94,352.84 L301.51,353.18 L302.08,353.60 L302.63,353.71 L303.18,353.71 L303.72,354.37 L304.26,354.96 L304.79,355.57 L305.31,355.92 L305.82,356.89 L306.32,357.48 L306.82,357.78 L307.32,358.18 L307.81,358.74 L308.29,358.89 L308.76,358.82 L309.23,359.58 L309.70,360.38 L310.16,360.97 L310.61,361.65 L311.06,361.77 L311.50,362.50 L311.94,362.51 L312.37,363.12 L312.80,363.90 L313.22,364.30 L313.64,364.61 L314.06,365.44 L314.47,365.69 L314.87,365.90 L315.28,366.69 L315.67,367.14 L316.07,368.31 L316.46,369.49 L317.22,370.71 L317.98,370.82 L318.72,371.33 L319.44,371.53 L320.15,371.91 L320.85,372.77 L321.54,374.16 L322.21,374.35 L322.88,375.18 L323.53,376.36 L324.17,376.90 L324.80,377.24 L325.42,377.46 L326.03,377.87 L326.64,378.31 L327.23,378.97 L327.81,379.39 L328.39,380.89 L328.95,381.49 L329.51,382.11 L330.06,382.89 L330.61,383.87 L331.14,384.97 L331.67,385.47 L332.19,386.42 L332.71,386.96 L333.21,387.85 L333.71,389.01 L334.21,390.03 L334.70,390.95 L335.18,391.80 L335.66,392.25 L336.13,391.92 L336.59,391.26 L337.05,391.90 L337.51,391.96 L337.96,393.04 L338.40,394.05 L338.84,395.34 L339.27,395.22 L339.70,395.61 L340.13,396.52 L340.55,396.72 L340.96,397.28 L341.37,397.55 L341.78,398.36 L342.18,398.14 L342.58,398.36 L342.97,399.94 L343.36,400.38 L343.75,401.26 L344.13,401.55 L344.51,402.38 L344.89,402.06 L345.26,402.74 L345.63,403.10 L345.99,403.94 L346.35,405.13 L346.71,405.27 L347.07,406.06 L347.42,406.48 L347.77,406.75 L348.11,407.48 L348.46,406.75 L348.79,407.12 L349.13,407.85 L349.46,408.34 L349.80,409.70 L350.12,410.15 L350.45,411.02 L350.93,411.73 L351.41,412.57 L351.88,413.35 L352.34,413.81 L352.80,414.19 L353.26,414.99 L353.71,416.27 L354.15,416.57 L354.59,417.24 L355.03,418.12 L355.46,418.27 L355.88,419.70 L356.30,420.93 L356.72,421.64 L357.13,422.12 L357.53,422.19 L357.94,422.50 L358.34,424.27 L358.73,424.24 L359.12,424.29 L359.51,424.92 L359.89,424.92 L360.27,425.06 L360.65,426.06 L361.02,426.72 L361.39,427.72 L361.75,429.08 L362.11,429.34 L362.47,429.11 L362.83,429.99 L363.18,430.34 L363.53,431.14 L363.87,431.48 L364.21,431.24 L364.55,432.46 L364.89,432.45 L365.22,433.01 L365.55,433.92 L365.88,434.56 L366.21,435.75 L366.53,436.16 L366.85,435.15 L367.17,435.57 L367.48,436.48 L367.80,437.29 L368.11,437.61 L368.41,438.42 L368.72,438.85 L369.02,438.96 L369.32,439.60 L369.62,440.00 L369.91,440.70 L370.21,441.58 L370.50,441.87 L370.79,442.29 L371.07,442.10 L371.36,442.18 L371.64,442.63 L371.92,443.59 L372.20,444.17 L372.48,444.85 L372.75,444.71 L373.03,444.42 L373.30,445.42 L373.57,446.02 L373.83,446.46 L374.10,446.73 L374.36,447.50 L374.62,447.13 L374.88,447.64 L375.14,448.27 L375.40,449.17 L375.65,449.94 L375.91,450.52 L376.16,450.49 L376.41,450.45 L376.66,450.50 L376.90,450.74 L377.15,451.33 L377.39,451.80 L377.64,451.92 L377.88,452.55 L378.12,452.29 L378.35,452.46 L378.40,453.50" fill="none" stroke="#ffa500" stroke-width="0.8" stroke-linejoin="round"/>
<path d="M74.50,485.80 L136.90,474.30 L164.10,423.20 L179.90,374.80 L191.10,344.60 L199.80,326.80 L206.90,318.80 L212.90,315.10 L218.10,314.30 L226.70,313.40 L228.00,313.31 L231.59,313.17 L234.89,313.35 L237.92,313.32 L240.73,313.83 L243.36,314.52 L245.82,314.51 L248.13,315.53 L250.31,316.83 L252.38,317.86 L254.34,319.51 L256.21,320.44 L257.99,321.41 L259.70,321.89 L261.33,323.10 L262.90,322.50 L264.40,322.93 L265.85,323.71 L267.25,323.91 L268.60,324.65 L269.91,324.61 L271.17,324.99 L272.39,325.18 L273.58,325.47 L274.73,326.44 L275.84,326.13 L276.93,326.59 L277.99,328.03 L279.02,328.49 L280.02,328.60 L280.99,328.61 L281.95,328.83 L282.88,328.91 L283.79,328.49 L284.67,328.92 L285.54,329.21 L286.39,329.92 L287.22,329.80 L288.04,329.85 L288.83,329.88 L289.61,330.05 L290.38,330.91 L291.13,331.41 L291.87,331.68 L292.59,332.24 L293.30,332.48 L294.00,333.22 L294.68,333.92 L295.35,334.05 L296.01,334.08 L296.67,333.98 L297.30,333.56 L297.93,333.81 L298.55,334.16 L299.16,333.40 L299.76,332.74 L300.35,333.67 L300.94,333.41 L301.51,333.36 L302.08,332.72 L302.63,333.16 L303.18,333.58 L303.72,333.91 L304.26,334.70 L304.79,335.02 L305.31,335.62 L305.82,335.05 L306.32,335.72 L306.82,336.45 L307.32,335.57 L307.81,336.60 L308.29,335.94 L308.76,336.49 L309.23,336.82 L309.70,335.28 L310.16,334.90 L310.61,335.05 L311.06,334.92 L311.50,334.54 L311.94,334.77 L312.37,335.71 L312.80,336.15 L313.22,336.78 L313.64,337.06 L314.06,337.01 L314.47,336.86 L314.87,337.39 L315.28,338.60 L315.67,338.75 L316.07,339.25 L316.46,338.84 L317.22,338.46 L317.98,338.00 L318.72,337.40 L319.44,337.89 L320.15,338.22 L320.85,338.22 L321.54,338.50 L322.21,340.68 L322.88,341.12 L323.53,340.38 L324.17,339.87 L324.80,339.20 L325.42,340.18 L326.03,339.66 L326.64,339.66 L327.23,340.39 L327.81,341.12 L328.39,341.79 L328.95,342.02 L329.51,341.65 L330.06,341.83 L330.61,341.25 L331.14,340.60 L331.67,340.43 L332.19,340.59 L332.71,342.01 L333.21,341.90 L333.71,342.63 L334.21,344.16 L334.70,344.49 L335.18,343.55 L335.66,343.13 L336.13,342.11 L336.59,342.32 L337.05,342.81 L337.51,343.13 L337.96,343.51 L338.40,344.33 L338.84,344.46 L339.27,344.71 L339.70,343.96 L340.13,343.21 L340.55,344.16 L340.96,344.40 L341.37,344.03 L341.78,343.84 L342.18,345.04 L342.58,346.63 L342.97,346.49 L343.36,345.81 L343.75,345.14 L344.13,345.15 L344.51,344.70 L344.89,344.77 L345.26,345.23 L345.63,345.83 L345.99,347.39 L346.35,347.29 L346.71,346.78 L347.07,346.43 L347.42,346.71 L347.77,346.72 L348.11,346.08 L348.46,345.71 L348.79,347.05 L349.13,347.85 L349.46,347.66 L349.80,348.06 L350.12,348.53 L350.45,349.51 L350.93,348.89 L351.41,348.41 L351.88,348.17 L352.34,348.30 L352.80,349.33 L353.26,350.47 L353.71,349.65 L354.15,349.04 L354.59,348.16 L355.03,348.94 L355.46,350.33 L355.88,350.68 L356.30,350.84 L356.72,350.93 L357.13,350.50 L357.53,350.26 L357.94,351.70 L358.34,352.30 L358.73,352.41 L359.12,352.60 L359.51,351.93 L359.89,351.52 L360.27,352.30 L360.65,352.59 L361.02,353.27 L361.39,353.92 L361.75,352.82 L362.11,352.35 L362.47,352.05 L362.83,351.31 L363.18,352.63 L363.53,354.04 L363.87,353.75 L364.21,353.93 L364.55,353.10 L364.89,352.15 L365.22,353.40 L365.55,354.03 L365.88,354.38 L366.21,355.14 L366.53,355.77 L366.85,353.67 L367.17,353.69 L367.48,354.26 L367.80,355.78 L368.11,357.06 L368.41,355.89 L368.72,354.84 L369.02,354.80 L369.32,354.79 L369.62,354.98 L369.91,357.06 L370.21,356.59 L370.50,355.89 L370.79,355.75 L371.07,354.54 L371.36,355.37 L371.64,357.30 L371.92,357.76 L372.20,358.25 L372.48,357.70 L372.75,356.78 L373.03,357.59 L373.30,358.43 L373.57,359.01 L373.83,359.89 L374.10,359.66 L374.36,358.46 L374.62,358.12 L374.88,359.16 L375.14,359.38 L375.40,361.20 L375.65,361.34 L375.91,359.73 L376.16,359.67 L376.41,359.74 L376.66,360.45 L376.90,361.88 L377.15,362.35 L377.39,361.04 L377.64,361.26 L377.88,360.09 L378.12,359.91 L378.35,360.60 L378.40,361.40" fill="none" stroke="#20b4b4" stroke-width="0.8" stroke-linejoin="round"/>
<path d="M74.50,486.20 L136.90,474.90 L164.10,422.60 L179.90,374.20 L191.10,344.10 L199.80,326.40 L206.90,318.50 L212.90,314.90 L218.10,314.10 L226.70,313.00 L228.00,312.90 L231.59,312.71 L234.89,312.65 L237.92,312.78 L240.73,312.94 L243.36,313.34 L245.82,313.75 L248.13,313.92 L250.31,314.66 L252.38,315.41 L254.34,316.62 L256.21,316.84 L257.99,317.69 L259.70,317.88 L261.33,318.09 L262.90,318.62 L264.40,318.98 L265.85,318.84 L267.25,319.63 L268.60,319.85 L269.91,320.27 L271.17,320.27 L272.39,320.67 L273.58,321.59 L274.73,321.95 L275.84,321.71 L276.93,322.23 L277.99,322.24 L279.02,322.83 L280.02,323.56 L280.99,322.84 L281.95,322.96 L282.88,322.71 L283.79,322.69 L284.67,322.77 L285.54,323.53 L286.39,323.38 L287.22,323.32 L288.04,323.55 L288.83,323.16 L289.61,323.80 L290.38,323.97 L291.13,324.69 L291.87,325.62 L292.59,326.63 L293.30,327.17 L294.00,327.21 L294.68,327.09 L295.35,327.20 L296.01,326.93 L296.67,326.69 L297.30,326.85 L297.93,327.28 L298.55,327.88 L299.16,327.33 L299.76,327.10 L300.35,326.53 L300.94,326.85 L301.51,326.87 L302.08,327.44 L302.63,327.50 L303.18,328.53 L303.72,328.50 L304.26,328.42 L304.79,329.02 L305.31,328.63 L305.82,329.21 L306.32,328.55 L306.82,328.75 L307.32,329.67 L307.81,329.12 L308.29,329.43 L308.76,328.96 L309.23,328.65 L309.70,328.14 L310.16,327.56 L310.61,328.08 L311.06,328.15 L311.50,328.53 L311.94,329.05 L312.37,329.43 L312.80,329.82 L313.22,329.99 L313.64,330.19 L314.06,330.37 L314.47,331.06 L314.87,330.68 L315.28,331.36 L315.67,331.71 L316.07,332.01 L316.46,331.40 L317.22,330.68 L317.98,329.38 L318.72,330.12 L319.44,329.22 L320.15,330.28 L320.85,330.17 L321.54,331.26 L322.21,332.86 L322.88,332.19 L323.53,331.95 L324.17,331.60 L324.80,332.31 L325.42,331.57 L326.03,332.40 L326.64,332.97 L327.23,333.74 L327.81,335.32 L328.39,335.36 L328.95,335.11 L329.51,334.57 L330.06,334.47 L330.61,334.26 L331.14,334.23 L331.67,333.92 L332.19,334.86 L332.71,335.96 L333.21,336.03 L333.71,336.55 L334.21,337.17 L334.70,337.26 L335.18,335.88 L335.66,335.39 L336.13,335.14 L336.59,336.54 L337.05,337.17 L337.51,337.41 L337.96,337.94 L338.40,339.27 L338.84,339.55 L339.27,339.13 L339.70,339.26 L340.13,338.20 L340.55,337.80 L340.96,337.47 L341.37,337.50 L341.78,338.06 L342.18,339.20 L342.58,339.85 L342.97,339.41 L343.36,339.34 L343.75,339.40 L344.13,339.43 L344.51,339.67 L344.89,339.16 L345.26,339.71 L345.63,340.91 L345.99,340.71 L346.35,341.04 L346.71,340.86 L347.07,340.70 L347.42,340.13 L347.77,339.75 L348.11,338.95 L348.46,339.54 L348.79,340.52 L349.13,340.92 L349.46,341.66 L349.80,342.40 L350.12,343.49 L350.45,342.49 L350.93,341.38 L351.41,341.25 L351.88,341.73 L352.34,341.56 L352.80,343.45 L353.26,343.98 L353.71,342.27 L354.15,341.99 L354.59,341.53 L355.03,341.49 L355.46,343.05 L355.88,343.64 L356.30,343.39 L356.72,342.92 L357.13,342.18 L357.53,342.43 L357.94,343.52 L358.34,344.45 L358.73,345.44 L359.12,345.39 L359.51,344.22 L359.89,344.40 L360.27,344.30 L360.65,345.12 L361.02,346.58 L361.39,346.61 L361.75,345.19 L362.11,345.05 L362.47,345.66 L362.83,345.82 L363.18,346.97 L363.53,347.94 L363.87,347.51 L364.21,347.54 L364.55,347.29 L364.89,346.35 L365.22,348.12 L365.55,348.77 L365.88,349.25 L366.21,350.18 L366.53,348.64 L366.85,347.70 L367.17,348.46 L367.48,348.47 L367.80,349.62 L368.11,350.99 L368.41,350.38 L368.72,348.67 L369.02,349.74 L369.32,350.04 L369.62,350.62 L369.91,352.26 L370.21,350.82 L370.50,350.80 L370.79,350.71 L371.07,351.20 L371.36,351.65 L371.64,352.11 L371.92,351.91 L372.20,353.28 L372.48,352.54 L372.75,351.43 L373.03,351.56 L373.30,352.70 L373.57,353.76 L373.83,354.27 L374.10,352.98 L374.36,352.34 L374.62,352.14 L374.88,352.55 L375.14,353.51 L375.40,354.24 L375.65,353.53 L375.91,352.69 L376.16,352.31 L376.41,351.83 L376.66,353.28 L376.90,354.34 L377.15,354.90 L377.39,355.36 L377.64,354.79 L377.88,354.06 L378.12,354.14 L378.35,355.12 L378.40,355.60" fill="none" stroke="#0000ff" stroke-width="0.8" stroke-linejoin="round"/>
<path d="M74.50,476.60 L136.90,459.50 L164.10,415.90 L179.90,367.60 L191.10,338.90 L199.80,325.10 L206.90,317.50 L212.90,315.20 L218.10,314.90 L226.70,315.70 L228.00,315.79 L231.59,315.94 L234.89,316.45 L237.92,316.87 L240.73,317.62 L243.36,318.37 L245.82,318.97 L248.13,319.93 L250.31,321.06 L252.38,322.35 L254.34,322.71 L256.21,323.47 L257.99,324.37 L259.70,325.23 L261.33,325.73 L262.90,326.87 L264.40,327.58 L265.85,328.70 L267.25,329.57 L268.60,330.23 L269.91,330.39 L271.17,331.75 L272.39,332.60 L273.58,333.34 L274.73,333.71 L275.84,333.87 L276.93,334.13 L277.99,335.46 L279.02,336.05 L280.02,336.85 L280.99,336.95 L281.95,337.11 L282.88,337.57 L283.79,338.69 L284.67,338.78 L285.54,339.53 L286.39,340.09 L287.22,340.56 L288.04,340.94 L288.83,340.77 L289.61,341.24 L290.38,341.81 L291.13,342.40 L291.87,342.36 L292.59,343.56 L293.30,344.39 L294.00,344.76 L294.68,345.61 L295.35,345.64 L296.01,346.91 L296.67,347.09 L297.30,347.67 L297.93,348.09 L298.55,348.20 L299.16,348.50 L299.76,348.75 L300.35,348.62 L300.94,349.94 L301.51,350.50 L302.08,350.10 L302.63,350.13 L303.18,350.47 L303.72,350.80 L304.26,351.97 L304.79,352.95 L305.31,353.49 L305.82,353.63 L306.32,354.12 L306.82,354.04 L307.32,353.80 L307.81,355.06 L308.29,355.16 L308.76,355.59 L309.23,356.34 L309.70,356.88 L310.16,357.28 L310.61,357.56 L311.06,358.18 L311.50,358.69 L311.94,359.31 L312.37,359.49 L312.80,360.07 L313.22,360.77 L313.64,361.72 L314.06,362.22 L314.47,362.45 L314.87,362.80 L315.28,363.35 L315.67,363.88 L316.07,363.88 L316.46,364.53 L317.22,365.84 L317.98,366.39 L318.72,366.58 L319.44,367.58 L320.15,368.38 L320.85,368.67 L321.54,369.68 L322.21,370.52 L322.88,371.79 L323.53,372.08 L324.17,372.51 L324.80,372.90 L325.42,373.86 L326.03,373.95 L326.64,374.42 L327.23,374.52 L327.81,375.56 L328.39,376.83 L328.95,378.52 L329.51,379.45 L330.06,378.96 L330.61,379.61 L331.14,379.99 L331.67,379.02 L332.19,379.94 L332.71,381.19 L333.21,382.30 L333.71,382.74 L334.21,383.32 L334.70,383.19 L335.18,384.34 L335.66,384.29 L336.13,383.94 L336.59,384.22 L337.05,385.39 L337.51,385.72 L337.96,386.95 L338.40,387.54 L338.84,388.61 L339.27,389.66 L339.70,389.99 L340.13,389.38 L340.55,389.83 L340.96,390.59 L341.37,390.94 L341.78,391.28 L342.18,392.73 L342.58,393.56 L342.97,393.90 L343.36,394.23 L343.75,394.77 L344.13,395.06 L344.51,395.32 L344.89,395.84 L345.26,395.81 L345.63,396.42 L345.99,397.61 L346.35,397.83 L346.71,398.24 L347.07,399.07 L347.42,400.24 L347.77,400.59 L348.11,400.77 L348.46,401.02 L348.79,401.99 L349.13,401.98 L349.46,402.72 L349.80,404.30 L350.12,404.92 L350.45,405.04 L350.93,405.53 L351.41,405.05 L351.88,405.53 L352.34,406.27 L352.80,407.31 L353.26,408.23 L353.71,409.41 L354.15,410.13 L354.59,410.40 L355.03,410.16 L355.46,410.99 L355.88,412.13 L356.30,412.79 L356.72,413.59 L357.13,413.89 L357.53,414.00 L357.94,414.05 L358.34,416.13 L358.73,416.88 L359.12,417.78 L359.51,417.62 L359.89,417.57 L360.27,418.77 L360.65,419.67 L361.02,419.86 L361.39,420.65 L361.75,421.09 L362.11,422.01 L362.47,422.88 L362.83,422.67 L363.18,423.80 L363.53,425.68 L363.87,425.62 L364.21,425.14 L364.55,424.74 L364.89,425.75 L365.22,426.84 L365.55,427.21 L365.88,427.85 L366.21,428.77 L366.53,428.98 L366.85,429.26 L367.17,430.22 L367.48,430.43 L367.80,430.86 L368.11,431.61 L368.41,432.42 L368.72,432.12 L369.02,432.27 L369.32,432.22 L369.62,432.79 L369.91,433.43 L370.21,434.61 L370.50,434.69 L370.79,435.16 L371.07,435.30 L371.36,435.88 L371.64,436.22 L371.92,436.72 L372.20,437.31 L372.48,438.26 L372.75,438.30 L373.03,438.03 L373.30,438.61 L373.57,439.05 L373.83,439.94 L374.10,440.21 L374.36,440.27 L374.62,439.87 L374.88,440.70 L375.14,441.59 L375.40,442.61 L375.65,442.95 L375.91,442.91 L376.16,443.46 L376.41,443.65 L376.66,443.42 L376.90,443.92 L377.15,444.66 L377.39,444.76 L377.64,445.63 L377.88,445.80 L378.12,446.30 L378.35,446.70 L378.40,446.50" fill="none" stroke="#ff0000" stroke-width="0.8" stroke-linejoin="round"/>
<path d="M74.50,481.80 L136.90,468.00 L164.10,416.70 L179.90,368.90 L191.10,339.90 L199.80,323.50 L206.90,314.90 L212.90,310.60 L218.10,309.10 L226.70,308.60 L228.00,308.54 L231.59,308.22 L234.89,308.17 L237.92,308.27 L240.73,308.69 L243.36,309.34 L245.82,309.87 L248.13,310.20 L250.31,311.10 L252.38,312.28 L254.34,312.93 L256.21,313.47 L257.99,313.71 L259.70,314.56 L261.33,314.96 L262.90,316.00 L264.40,317.23 L265.85,316.78 L267.25,317.68 L268.60,317.15 L269.91,317.17 L271.17,317.91 L272.39,318.09 L273.58,318.80 L274.73,319.08 L275.84,320.08 L276.93,320.38 L277.99,320.68 L279.02,320.82 L280.02,320.62 L280.99,321.27 L281.95,321.43 L282.88,321.73 L283.79,321.81 L284.67,322.41 L285.54,322.02 L286.39,322.17 L287.22,321.99 L288.04,322.38 L288.83,322.69 L289.61,322.18 L290.38,323.06 L291.13,323.29 L291.87,323.52 L292.59,323.59 L293.30,323.95 L294.00,324.56 L294.68,324.87 L295.35,325.85 L296.01,325.71 L296.67,326.37 L297.30,326.89 L297.93,327.23 L298.55,326.91 L299.16,326.16 L299.76,326.67 L300.35,326.31 L300.94,326.44 L301.51,325.93 L302.08,325.49 L302.63,325.48 L303.18,325.75 L303.72,325.87 L304.26,325.71 L304.79,326.20 L305.31,326.56 L305.82,326.24 L306.32,326.93 L306.82,327.19 L307.32,328.46 L307.81,328.63 L308.29,328.45 L308.76,328.27 L309.23,328.36 L309.70,328.61 L310.16,328.59 L310.61,328.53 L311.06,328.07 L311.50,327.79 L311.94,326.63 L312.37,326.12 L312.80,325.93 L313.22,325.31 L313.64,325.12 L314.06,326.87 L314.47,327.27 L314.87,327.74 L315.28,328.51 L315.67,329.25 L316.07,329.13 L316.46,329.50 L317.22,331.06 L317.98,332.01 L318.72,331.18 L319.44,329.51 L320.15,328.18 L320.85,328.73 L321.54,329.41 L322.21,329.36 L322.88,329.41 L323.53,330.69 L324.17,331.59 L324.80,331.28 L325.42,329.93 L326.03,330.13 L326.64,330.06 L327.23,329.89 L327.81,328.29 L328.39,328.90 L328.95,330.71 L329.51,332.32 L330.06,332.25 L330.61,332.40 L331.14,332.42 L331.67,332.21 L332.19,330.34 L332.71,329.56 L333.21,330.35 L333.71,331.92 L334.21,333.23 L334.70,332.84 L335.18,333.41 L335.66,334.12 L336.13,333.28 L336.59,331.85 L337.05,330.70 L337.51,330.99 L337.96,331.05 L338.40,331.51 L338.84,331.96 L339.27,333.16 L339.70,333.96 L340.13,334.01 L340.55,333.24 L340.96,333.11 L341.37,332.92 L341.78,333.45 L342.18,332.55 L342.58,332.33 L342.97,333.00 L343.36,333.66 L343.75,333.97 L344.13,334.41 L344.51,333.99 L344.89,333.22 L345.26,332.35 L345.63,331.34 L345.99,330.88 L346.35,332.32 L346.71,333.76 L347.07,333.29 L347.42,334.01 L347.77,334.81 L348.11,334.54 L348.46,333.49 L348.79,331.85 L349.13,331.84 L349.46,332.50 L349.80,333.04 L350.12,333.11 L350.45,334.15 L350.93,336.42 L351.41,334.78 L351.88,332.58 L352.34,331.78 L352.80,331.90 L353.26,333.51 L353.71,335.51 L354.15,334.17 L354.59,333.38 L355.03,332.21 L355.46,330.94 L355.88,332.68 L356.30,334.51 L356.72,334.24 L357.13,335.62 L357.53,334.43 L357.94,331.94 L358.34,331.55 L358.73,333.07 L359.12,334.24 L359.51,334.94 L359.89,334.65 L360.27,332.60 L360.65,333.25 L361.02,333.04 L361.39,333.80 L361.75,336.11 L362.11,336.01 L362.47,334.31 L362.83,334.30 L363.18,332.82 L363.53,332.75 L363.87,335.29 L364.21,335.64 L364.55,335.77 L364.89,334.93 L365.22,333.05 L365.55,332.96 L365.88,334.54 L366.21,334.62 L366.53,336.12 L366.85,335.44 L367.17,334.76 L367.48,334.69 L367.80,335.35 L368.11,336.75 L368.41,337.41 L368.72,337.31 L369.02,336.00 L369.32,335.04 L369.62,334.64 L369.91,334.98 L370.21,336.70 L370.50,336.99 L370.79,336.29 L371.07,335.78 L371.36,334.29 L371.64,334.09 L371.92,335.83 L372.20,336.66 L372.48,336.29 L372.75,336.89 L373.03,334.80 L373.30,333.78 L373.57,334.87 L373.83,335.41 L374.10,337.51 L374.36,338.98 L374.62,337.23 L374.88,336.53 L375.14,336.72 L375.40,336.00 L375.65,336.99 L375.91,338.01 L376.16,337.16 L376.41,337.33 L376.66,336.50 L376.90,335.02 L377.15,337.22 L377.39,338.82 L377.64,337.86 L377.88,337.93 L378.12,336.11 L378.35,334.89 L378.40,337.00" fill="none" stroke="#000000" stroke-width="0.8" stroke-linejoin="round"/>
<path d="M378.40,333.40 L511.40,333.40" fill="none" stroke="#999999" stroke-width="0.85" stroke-linejoin="round" stroke-dasharray="3.8 2"/>
<path d="M378.40,453.43 L380.40,455.70 L382.40,457.92 L384.40,460.07 L386.40,462.14 L388.40,464.14 L390.40,466.04 L392.40,467.86 L394.40,469.58 L396.40,471.20 L398.40,472.72 L400.40,474.13 L402.40,475.44 L404.40,476.64 L406.40,477.73 L408.40,478.72 L410.40,479.61 L412.40,480.39 L414.40,481.09 L416.40,481.70 L418.40,482.23 L420.40,482.68 L422.40,483.06 L424.40,483.38 L426.40,483.64 L428.40,483.86 L430.40,484.03 L432.40,484.17 L434.40,484.28 L436.40,484.36 L438.40,484.43 L440.40,484.48 L442.40,484.51 L444.40,484.53 L446.40,484.55 L448.40,484.56 L450.40,484.57 L452.40,484.58 L454.40,484.58 L456.40,484.58 L458.40,484.58 L460.40,484.59 L462.40,484.59 L464.40,484.59 L466.40,484.59 L468.40,484.59 L470.40,484.59 L472.40,484.59 L474.40,484.59 L476.40,484.59 L478.40,484.59 L480.40,484.59 L482.40,484.59 L484.40,484.59 L486.40,484.59 L488.40,484.59 L490.40,484.59 L492.40,484.59 L494.40,484.59 L496.40,484.59 L498.40,484.59 L500.40,484.59 L502.40,484.59 L504.40,484.59 L506.40,484.59 L508.40,484.59 L510.40,484.59 L511.60,484.59" fill="none" stroke="#ffa500" stroke-width="0.7" stroke-linejoin="round" stroke-dasharray="3.8 2"/>
<path d="M378.40,361.30 L380.40,362.97 L382.40,364.70 L384.40,366.49 L386.40,368.35 L388.40,370.27 L390.40,372.25 L392.40,374.31 L394.40,376.43 L396.40,378.61 L398.40,380.86 L400.40,383.17 L402.40,385.55 L404.40,387.99 L406.40,390.49 L408.40,393.04 L410.40,395.66 L412.40,398.32 L414.40,401.03 L416.40,403.79 L418.40,406.59 L420.40,409.43 L422.40,412.30 L424.40,415.19 L426.40,418.10 L428.40,421.02 L430.40,423.94 L432.40,426.86 L434.40,429.77 L436.40,432.66 L438.40,435.52 L440.40,438.34 L442.40,441.11 L444.40,443.83 L446.40,446.49 L448.40,449.07 L450.40,451.57 L452.40,453.98 L454.40,456.29 L456.40,458.50 L458.40,460.60 L460.40,462.58 L462.40,464.44 L464.40,466.18 L466.40,467.79 L468.40,469.28 L470.40,470.64 L472.40,471.88 L474.40,473.00 L476.40,473.99 L478.40,474.88 L480.40,475.66 L482.40,476.33 L484.40,476.92 L486.40,477.41 L488.40,477.83 L490.40,478.18 L492.40,478.47 L494.40,478.70 L496.40,478.89 L498.40,479.04 L500.40,479.15 L502.40,479.24 L504.40,479.31 L506.40,479.36 L508.40,479.39 L510.40,479.42 L511.60,479.43" fill="none" stroke="#20b4b4" stroke-width="0.7" stroke-linejoin="round" stroke-dasharray="3.8 2"/>
<path d="M378.40,355.65 L380.40,357.32 L382.40,359.05 L384.40,360.85 L386.40,362.72 L388.40,364.64 L390.40,366.64 L392.40,368.71 L394.40,370.84 L396.40,373.04 L398.40,375.31 L400.40,377.64 L402.40,380.04 L404.40,382.51 L406.40,385.04 L408.40,387.63 L410.40,390.28 L412.40,392.99 L414.40,395.75 L416.40,398.56 L418.40,401.42 L420.40,404.31 L422.40,407.25 L424.40,410.21 L426.40,413.19 L428.40,416.20 L430.40,419.21 L432.40,422.23 L434.40,425.24 L436.40,428.24 L438.40,431.21 L440.40,434.15 L442.40,437.06 L444.40,439.91 L446.40,442.70 L448.40,445.42 L450.40,448.07 L452.40,450.62 L454.40,453.09 L456.40,455.45 L458.40,457.70 L460.40,459.84 L462.40,461.86 L464.40,463.75 L466.40,465.52 L468.40,467.15 L470.40,468.66 L472.40,470.04 L474.40,471.28 L476.40,472.41 L478.40,473.41 L480.40,474.30 L482.40,475.08 L484.40,475.75 L486.40,476.34 L488.40,476.83 L490.40,477.25 L492.40,477.59 L494.40,477.87 L496.40,478.10 L498.40,478.29 L500.40,478.43 L502.40,478.55 L504.40,478.63 L506.40,478.70 L508.40,478.74 L510.40,478.78 L511.60,478.79" fill="none" stroke="#0000ff" stroke-width="0.7" stroke-linejoin="round" stroke-dasharray="3.8 2"/>
<path d="M378.40,446.37 L380.40,449.10 L382.40,451.75 L384.40,454.33 L386.40,456.83 L388.40,459.23 L390.40,461.54 L392.40,463.74 L394.40,465.83 L396.40,467.80 L398.40,469.66 L400.40,471.38 L402.40,472.99 L404.40,474.46 L406.40,475.81 L408.40,477.04 L410.40,478.14 L412.40,479.13 L414.40,480.00 L416.40,480.76 L418.40,481.43 L420.40,482.00 L422.40,482.49 L424.40,482.90 L426.40,483.24 L428.40,483.52 L430.40,483.75 L432.40,483.93 L434.40,484.08 L436.40,484.19 L438.40,484.28 L440.40,484.34 L442.40,484.39 L444.40,484.42 L446.40,484.45 L448.40,484.46 L450.40,484.47 L452.40,484.48 L454.40,484.49 L456.40,484.49 L458.40,484.49 L460.40,484.49 L462.40,484.49 L464.40,484.49 L466.40,484.49 L468.40,484.49 L470.40,484.49 L472.40,484.49 L474.40,484.49 L476.40,484.49 L478.40,484.49 L480.40,484.49 L482.40,484.49 L484.40,484.49 L486.40,484.49 L488.40,484.49 L490.40,484.49 L492.40,484.49 L494.40,484.49 L496.40,484.49 L498.40,484.49 L500.40,484.49 L502.40,484.49 L504.40,484.49 L506.40,484.49 L508.40,484.49 L510.40,484.49 L511.60,484.49" fill="none" stroke="#ff0000" stroke-width="0.7" stroke-linejoin="round" stroke-dasharray="3.8 2"/>
<path d="M378.40,336.99 L380.40,337.28 L382.40,337.59 L384.40,337.91 L386.40,338.24 L388.40,338.59 L390.40,338.96 L392.40,339.35 L394.40,339.76 L396.40,340.18 L398.40,340.63 L400.40,341.10 L402.40,341.60 L404.40,342.11 L406.40,342.66 L408.40,343.23 L410.40,343.82 L412.40,344.45 L414.40,345.10 L416.40,345.79 L418.40,346.51 L420.40,347.26 L422.40,348.05 L424.40,348.87 L426.40,349.74 L428.40,350.64 L430.40,351.58 L432.40,352.57 L434.40,353.60 L436.40,354.67 L438.40,355.79 L440.40,356.96 L442.40,358.18 L444.40,359.45 L446.40,360.78 L448.40,362.16 L450.40,363.59 L452.40,365.08 L454.40,366.63 L456.40,368.24 L458.40,369.91 L460.40,371.64 L462.40,373.43 L464.40,375.29 L466.40,377.20 L468.40,379.19 L470.40,381.23 L472.40,383.34 L474.40,385.52 L476.40,387.75 L478.40,390.05 L480.40,392.41 L482.40,394.82 L484.40,397.30 L486.40,399.82 L488.40,402.40 L490.40,405.03 L492.40,407.70 L494.40,410.41 L496.40,413.15 L498.40,415.93 L500.40,418.72 L502.40,421.54 L504.40,424.37 L506.40,427.20 L508.40,430.04 L510.40,432.86 L512.40,435.66 L512.60,435.94" fill="none" stroke="#000000" stroke-width="0.7" stroke-linejoin="round" stroke-dasharray="3.8 2"/>
<rect x="95.30" y="576.60" width="427.20" height="197.80" fill="none" stroke="#000" stroke-width="1.1"/>
<text x="97.60" y="797.70" font-family="Liberation Sans, sans-serif" font-size="17.2" text-anchor="middle">0.01</text>
<path d="M121.02,774.40 v-3.4 M121.02,576.60 v3.4" stroke="#000" stroke-width="1"/>
<path d="M155.02,774.40 v-3.4 M155.02,576.60 v3.4" stroke="#000" stroke-width="1"/>
<path d="M172.46,774.40 v-3.4 M172.46,576.60 v3.4" stroke="#000" stroke-width="1"/>
<path d="M180.74,774.40 v-6.6 M180.74,576.60 v6.6" stroke="#000" stroke-width="1"/>
<text x="183.04" y="797.70" font-family="Liberation Sans, sans-serif" font-size="17.2" text-anchor="middle">0.1</text>
<path d="M206.46,774.40 v-3.4 M206.46,576.60 v3.4" stroke="#000" stroke-width="1"/>
<path d="M240.46,774.40 v-3.4 M240.46,576.60 v3.4" stroke="#000" stroke-width="1"/>
<path d="M257.90,774.40 v-3.4 M257.90,576.60 v3.4" stroke="#000" stroke-width="1"/>
<path d="M266.18,774.40 v-6.6 M266.18,576.60 v6.6" stroke="#000" stroke-width="1"/>
<text x="268.48" y="797.70" font-family="Liberation Sans, sans-serif" font-size="17.2" text-anchor="middle">1</text>
<path d="M291.90,774.40 v-3.4 M291.90,576.60 v3.4" stroke="#000" stroke-width="1"/>
<path d="M325.90,774.40 v-3.4 M325.90,576.60 v3.4" stroke="#000" stroke-width="1"/>
<path d="M343.34,774.40 v-3.4 M343.34,576.60 v3.4" stroke="#000" stroke-width="1"/>
<path d="M351.62,774.40 v-6.6 M351.62,576.60 v6.6" stroke="#000" stroke-width="1"/>
<text x="353.92" y="797.70" font-family="Liberation Sans, sans-serif" font-size="17.2" text-anchor="middle">10</text>
<path d="M377.34,774.40 v-3.4 M377.34,576.60 v3.4" stroke="#000" stroke-width="1"/>
<path d="M411.34,774.40 v-3.4 M411.34,576.60 v3.4" stroke="#000" stroke-width="1"/>
<path d="M428.78,774.40 v-3.4 M428.78,576.60 v3.4" stroke="#000" stroke-width="1"/>
<path d="M437.06,774.40 v-6.6 M437.06,576.60 v6.6" stroke="#000" stroke-width="1"/>
<text x="439.36" y="797.70" font-family="Liberation Sans, sans-serif" font-size="17.2" text-anchor="middle">100</text>
<path d="M462.78,774.40 v-3.4 M462.78,576.60 v3.4" stroke="#000" stroke-width="1"/>
<path d="M496.78,774.40 v-3.4 M496.78,576.60 v3.4" stroke="#000" stroke-width="1"/>
<path d="M514.22,774.40 v-3.4 M514.22,576.60 v3.4" stroke="#000" stroke-width="1"/>
<text x="524.80" y="797.70" font-family="Liberation Sans, sans-serif" font-size="17.2" text-anchor="middle">1000</text>
<text x="85.00" y="780.70" font-family="Liberation Sans, sans-serif" font-size="17.2" text-anchor="end">0.01</text>
<path d="M95.30,756.88 h3.4 M522.50,756.88 h-3.4" stroke="#000" stroke-width="1"/>
<path d="M95.30,746.63 h3.4 M522.50,746.63 h-3.4" stroke="#000" stroke-width="1"/>
<path d="M95.30,739.35 h3.4 M522.50,739.35 h-3.4" stroke="#000" stroke-width="1"/>
<path d="M95.30,733.71 h3.4 M522.50,733.71 h-3.4" stroke="#000" stroke-width="1"/>
<path d="M95.30,729.10 h3.4 M522.50,729.10 h-3.4" stroke="#000" stroke-width="1"/>
<path d="M95.30,725.21 h3.4 M522.50,725.21 h-3.4" stroke="#000" stroke-width="1"/>
<path d="M95.30,721.83 h3.4 M522.50,721.83 h-3.4" stroke="#000" stroke-width="1"/>
<path d="M95.30,718.85 h3.4 M522.50,718.85 h-3.4" stroke="#000" stroke-width="1"/>
<path d="M95.30,716.19 h6.6 M522.50,716.19 h-6.6" stroke="#000" stroke-width="1"/>
<text x="85.00" y="722.49" font-family="Liberation Sans, sans-serif" font-size="17.2" text-anchor="end">0.1</text>
<path d="M95.30,698.66 h3.4 M522.50,698.66 h-3.4" stroke="#000" stroke-width="1"/>
<path d="M95.30,688.41 h3.4 M522.50,688.41 h-3.4" stroke="#000" stroke-width="1"/>
<path d="M95.30,681.14 h3.4 M522.50,681.14 h-3.4" stroke="#000" stroke-width="1"/>
<path d="M95.30,675.50 h3.4 M522.50,675.50 h-3.4" stroke="#000" stroke-width="1"/>
<path d="M95.30,670.89 h3.4 M522.50,670.89 h-3.4" stroke="#000" stroke-width="1"/>
<path d="M95.30,666.99 h3.4 M522.50,666.99 h-3.4" stroke="#000" stroke-width="1"/>
<path d="M95.30,663.62 h3.4 M522.50,663.62 h-3.4" stroke="#000" stroke-width="1"/>
<path d="M95.30,660.64 h3.4 M522.50,660.64 h-3.4" stroke="#000" stroke-width="1"/>
<path d="M95.30,657.98 h6.6 M522.50,657.98 h-6.6" stroke="#000" stroke-width="1"/>
<text x="85.00" y="664.28" font-family="Liberation Sans, sans-serif" font-size="17.2" text-anchor="end">1</text>
<path d="M95.30,640.45 h3.4 M522.50,640.45 h-3.4" stroke="#000" stroke-width="1"/>
<path d="M95.30,630.20 h3.4 M522.50,630.20 h-3.4" stroke="#000" stroke-width="1"/>
<path d="M95.30,622.93 h3.4 M522.50,622.93 h-3.4" stroke="#000" stroke-width="1"/>
<path d="M95.30,617.29 h3.4 M522.50,617.29 h-3.4" stroke="#000" stroke-width="1"/>
<path d="M95.30,612.68 h3.4 M522.50,612.68 h-3.4" stroke="#000" stroke-width="1"/>
<path d="M95.30,608.78 h3.4 M522.50,608.78 h-3.4" stroke="#000" stroke-width="1"/>
<path d="M95.30,605.41 h3.4 M522.50,605.41 h-3.4" stroke="#000" stroke-width="1"/>
<path d="M95.30,602.43 h3.4 M522.50,602.43 h-3.4" stroke="#000" stroke-width="1"/>
<path d="M95.30,599.76 h6.6 M522.50,599.76 h-6.6" stroke="#000" stroke-width="1"/>
<text x="85.00" y="606.06" font-family="Liberation Sans, sans-serif" font-size="17.2" text-anchor="end">10</text>
<path d="M95.30,582.24 h3.4 M522.50,582.24 h-3.4" stroke="#000" stroke-width="1"/>
<path d="M95.30,582.24 h3.4 M522.50,582.24 h-3.4" stroke="#000" stroke-width="1"/>
<text transform="translate(20.00,676.30) rotate(-90)" font-family="Liberation Sans, sans-serif" font-size="17.2" text-anchor="middle">energy loss (keV)</text>
<text x="308.80" y="824.00" font-family="Liberation Sans, sans-serif" font-size="17.2" text-anchor="middle">time (ps)</text>
<clipPath id="cp3"><rect x="95.30" y="576.60" width="427.20" height="197.80"/></clipPath><g clip-path="url(#cp3)">
<path d="M118.80,774.40 L154.90,706.60 L181.20,690.40 L195.80,682.80 L197.30,681.98 L198.80,681.15 L200.30,680.29 L201.80,679.43 L203.30,678.58 L204.80,677.75 L206.30,676.96 L207.80,676.20 L209.30,675.48 L210.80,674.80 L212.30,674.15 L213.80,673.50 L215.30,672.87 L216.80,672.23 L218.30,671.58 L219.80,670.91 L221.30,670.23 L222.80,669.51 L224.30,668.76 L225.80,667.99 L227.30,667.20 L228.80,666.40 L230.30,665.60 L231.80,664.79 L233.30,664.00 L234.80,663.21 L236.30,662.45 L237.80,661.71 L239.30,660.97 L240.80,660.24 L242.30,659.52 L243.80,658.81 L245.30,658.10 L246.80,657.39 L248.30,656.69 L249.80,656.00 L251.30,655.31 L252.80,654.63 L254.30,653.96 L255.80,653.30 L257.30,652.64 L258.80,651.99 L260.30,651.33 L261.80,650.67 L263.30,650.00 L264.80,649.32 L266.30,648.63 L267.80,647.93 L269.30,647.23 L270.80,646.53 L272.30,645.81 L273.80,645.10 L275.30,644.37 L276.80,643.63 L278.30,642.87 L279.80,642.10 L281.30,641.32 L282.80,640.53 L284.30,639.72 L285.80,638.91 L287.30,638.08 L288.80,637.24 L290.30,636.39 L291.80,635.53 L293.30,634.65 L294.80,633.76 L296.30,632.85 L297.80,631.91 L299.30,630.96 L300.80,629.99 L302.30,629.02 L303.80,628.05 L305.30,627.08 L306.80,626.12 L308.30,625.17 L309.80,624.24 L311.30,623.33 L312.80,622.42 L314.30,621.52 L315.80,620.62 L317.30,619.72 L318.80,618.82 L320.30,617.92 L321.80,617.01 L323.30,616.10 L324.80,615.17 L326.30,614.24 L327.80,613.29 L329.30,612.34 L330.80,611.39 L332.30,610.45 L333.80,609.51 L335.30,608.59 L336.80,607.69 L338.30,606.81 L339.80,605.94 L341.30,605.09 L342.80,604.24 L344.30,603.41 L345.80,602.59 L347.30,601.78 L348.80,600.98 L350.30,600.19 L351.80,599.41 L353.30,598.63 L354.80,597.86 L356.30,597.09 L357.80,596.32 L359.30,595.57 L360.80,594.84 L362.30,594.12 L363.80,593.42 L365.30,592.76 L366.80,592.12 L368.30,591.52 L369.80,590.95 L371.30,590.40 L372.80,589.88 L374.30,589.37 L375.80,588.86 L377.30,588.37 L378.80,587.87 L380.30,587.37 L381.80,586.86 L383.30,586.34 L384.80,585.83 L386.30,585.33 L387.00,585.10" fill="none" stroke="#ffa500" stroke-width="0.8" stroke-linejoin="round"/>
<path d="M118.90,774.40 L154.90,706.70 L181.20,690.80 L195.80,683.20 L197.30,682.38 L198.80,681.54 L200.30,680.67 L201.80,679.81 L203.30,678.95 L204.80,678.13 L206.30,677.34 L207.80,676.60 L209.30,675.90 L210.80,675.21 L212.30,674.54 L213.80,673.89 L215.30,673.26 L216.80,672.65 L218.30,672.05 L219.80,671.48 L221.30,670.92 L222.80,670.39 L224.30,669.88 L225.80,669.40 L227.30,668.94 L228.80,668.50 L230.30,668.07 L231.80,667.66 L233.30,667.26 L234.80,666.86 L236.30,666.48 L237.80,666.10 L239.30,665.73 L240.80,665.38 L242.30,665.04 L243.80,664.71 L245.30,664.39 L246.80,664.07 L248.30,663.77 L249.80,663.46 L251.30,663.16 L252.80,662.87 L254.30,662.58 L255.80,662.31 L257.30,662.04 L258.80,661.77 L260.30,661.51 L261.80,661.25 L263.30,660.99 L264.80,660.73 L266.30,660.46 L267.80,660.20 L269.30,659.94 L270.80,659.68 L272.30,659.43 L273.80,659.17 L275.30,658.90 L276.80,658.63 L278.30,658.34 L279.80,658.04 L281.30,657.72 L282.80,657.39 L284.30,657.04 L285.80,656.69 L287.30,656.33 L288.80,655.96 L290.30,655.59 L291.80,655.22 L293.30,654.86 L294.80,654.51 L296.30,654.15 L297.80,653.79 L299.30,653.44 L300.80,653.08 L302.30,652.72 L303.80,652.37 L305.30,652.02 L306.80,651.67 L308.30,651.33 L309.80,651.00 L311.30,650.68 L312.80,650.38 L314.30,650.07 L315.80,649.77 L317.30,649.47 L318.80,649.17 L320.30,648.86 L321.80,648.53 L323.30,648.20 L324.80,647.86 L326.30,647.51 L327.80,647.16 L329.30,646.80 L330.80,646.44 L332.30,646.07 L333.80,645.68 L335.30,645.29 L336.80,644.88 L338.30,644.46 L339.80,644.04 L341.30,643.63 L342.80,643.22 L344.30,642.79 L345.80,642.35 L347.30,641.87 L348.80,641.36 L350.30,640.79 L351.80,640.17 L353.30,639.49 L354.80,638.74 L356.30,637.94 L357.80,637.10 L359.30,636.22 L360.80,635.32 L362.30,634.40 L363.80,633.48 L365.30,632.57 L366.80,631.68 L368.30,630.80 L369.80,629.90 L371.30,629.00 L372.80,628.10 L374.30,627.19 L375.80,626.28 L377.30,625.36 L378.80,624.44 L380.30,623.50 L381.80,622.55 L383.30,621.56 L384.80,620.51 L386.30,619.41 L387.00,618.90" fill="none" stroke="#20b4b4" stroke-width="0.8" stroke-linejoin="round"/>
<path d="M118.60,774.40 L154.90,706.50 L181.20,690.60 L195.80,683.30 L197.30,682.79 L198.80,682.35 L200.30,681.98 L201.80,681.68 L203.30,681.44 L204.80,681.25 L206.30,681.07 L207.80,680.90 L209.30,680.75 L210.80,680.64 L212.30,680.56 L213.80,680.50 L215.30,680.45 L216.80,680.41 L218.30,680.38 L219.80,680.36 L221.30,680.32 L222.80,680.28 L224.30,680.25 L225.80,680.21 L227.30,680.19 L228.80,680.16 L230.30,680.15 L231.80,680.14 L233.30,680.12 L234.80,680.11 L236.30,680.10 L237.80,680.09 L239.30,680.08 L240.80,680.08 L242.30,680.07 L243.80,680.07 L245.30,680.06 L246.80,680.06 L248.30,680.06 L249.80,680.05 L251.30,680.05 L252.80,680.05 L254.30,680.04 L255.80,680.04 L257.30,680.03 L258.80,680.03 L260.30,680.03 L261.80,680.02 L263.30,680.01 L264.80,680.00 L266.30,680.00 L267.80,679.99 L269.30,679.99 L270.80,679.99 L272.30,679.99 L273.80,679.99 L275.30,679.97 L276.80,679.94 L278.30,679.89 L279.80,679.81 L281.30,679.72 L282.80,679.61 L284.30,679.49 L285.80,679.36 L287.30,679.21 L288.80,679.04 L290.30,678.87 L291.80,678.67 L293.30,678.46 L294.80,678.24 L296.30,678.00 L297.80,677.74 L299.30,677.48 L300.80,677.19 L302.30,676.89 L303.80,676.58 L305.30,676.25 L306.80,675.91 L308.30,675.55 L309.80,675.17 L311.30,674.78 L312.80,674.38 L314.30,673.96 L315.80,673.53 L317.30,673.09 L318.80,672.62 L320.30,672.14 L321.80,671.64 L323.30,671.10 L324.80,670.51 L326.30,669.84 L327.80,669.10 L329.30,668.29 L330.80,667.46 L332.30,666.64 L333.80,665.88 L335.30,665.05 L336.80,664.08 L338.30,663.05 L339.80,662.01 L341.30,660.95 L342.80,659.88 L344.30,658.80 L345.80,657.71 L347.30,656.60 L348.80,655.49 L350.30,654.36 L351.80,653.21 L353.30,652.03 L354.80,650.83 L356.30,649.61 L357.80,648.36 L359.30,647.10 L360.80,645.84 L362.30,644.58 L363.80,643.32 L365.30,642.07 L366.80,640.84 L368.30,639.62 L369.80,638.40 L371.30,637.19 L372.80,635.98 L374.30,634.78 L375.80,633.57 L377.30,632.37 L378.80,631.16 L380.30,629.95 L381.80,628.73 L383.30,627.50 L384.80,626.25 L386.30,624.99 L387.00,624.40" fill="none" stroke="#0000ff" stroke-width="0.8" stroke-linejoin="round"/>
<path d="M121.80,774.40 L154.90,713.50 L181.20,693.00 L195.80,685.20 L197.30,684.37 L198.80,683.52 L200.30,682.65 L201.80,681.78 L203.30,680.92 L204.80,680.08 L206.30,679.27 L207.80,678.50 L209.30,677.77 L210.80,677.06 L212.30,676.38 L213.80,675.72 L215.30,675.06 L216.80,674.40 L218.30,673.73 L219.80,673.04 L221.30,672.34 L222.80,671.60 L224.30,670.84 L225.80,670.05 L227.30,669.24 L228.80,668.43 L230.30,667.61 L231.80,666.80 L233.30,666.00 L234.80,665.21 L236.30,664.45 L237.80,663.71 L239.30,662.99 L240.80,662.29 L242.30,661.60 L243.80,660.91 L245.30,660.23 L246.80,659.55 L248.30,658.88 L249.80,658.20 L251.30,657.51 L252.80,656.82 L254.30,656.13 L255.80,655.44 L257.30,654.75 L258.80,654.06 L260.30,653.38 L261.80,652.69 L263.30,652.01 L264.80,651.32 L266.30,650.64 L267.80,649.96 L269.30,649.29 L270.80,648.62 L272.30,647.95 L273.80,647.28 L275.30,646.60 L276.80,645.91 L278.30,645.21 L279.80,644.50 L281.30,643.77 L282.80,643.04 L284.30,642.31 L285.80,641.57 L287.30,640.82 L288.80,640.05 L290.30,639.27 L291.80,638.46 L293.30,637.63 L294.80,636.77 L296.30,635.87 L297.80,634.94 L299.30,633.98 L300.80,633.00 L302.30,632.01 L303.80,631.02 L305.30,630.03 L306.80,629.05 L308.30,628.08 L309.80,627.13 L311.30,626.20 L312.80,625.26 L314.30,624.33 L315.80,623.40 L317.30,622.48 L318.80,621.56 L320.30,620.64 L321.80,619.72 L323.30,618.80 L324.80,617.88 L326.30,616.96 L327.80,616.04 L329.30,615.12 L330.80,614.20 L332.30,613.29 L333.80,612.38 L335.30,611.48 L336.80,610.59 L338.30,609.71 L339.80,608.83 L341.30,607.96 L342.80,607.09 L344.30,606.23 L345.80,605.37 L347.30,604.53 L348.80,603.68 L350.30,602.85 L351.80,602.02 L353.30,601.20 L354.80,600.37 L356.30,599.54 L357.80,598.72 L359.30,597.91 L360.80,597.11 L362.30,596.33 L363.80,595.56 L365.30,594.82 L366.80,594.11 L368.30,593.42 L369.80,592.77 L371.30,592.13 L372.80,591.51 L374.30,590.91 L375.80,590.31 L377.30,589.72 L378.80,589.12 L380.30,588.53 L381.80,587.91 L383.30,587.30 L384.80,586.69 L386.30,586.08 L387.00,585.80" fill="none" stroke="#ff0000" stroke-width="0.8" stroke-linejoin="round"/>
<path d="M131.70,774.40 L154.90,735.00 L181.20,713.80 L195.80,710.00 L197.30,709.87 L198.80,709.81 L200.30,709.84 L201.80,709.96 L203.30,710.15 L204.80,710.39 L206.30,710.64 L207.80,710.90 L209.30,711.18 L210.80,711.50 L212.30,711.83 L213.80,712.18 L215.30,712.54 L216.80,712.91 L218.30,713.28 L219.80,713.65 L221.30,714.02 L222.80,714.38 L224.30,714.73 L225.80,715.07 L227.30,715.38 L228.80,715.63 L230.30,715.85 L231.80,715.80 L233.30,715.33 L234.80,714.94 L236.30,714.49 L237.80,713.99 L239.30,713.47 L240.80,712.95 L242.30,712.42 L243.80,711.90 L245.30,711.40 L246.80,710.90 L248.30,710.39 L249.80,709.88 L251.30,709.37 L252.80,708.86 L254.30,708.35 L255.80,707.86 L257.30,707.39 L258.80,706.94 L260.30,706.56 L261.80,706.42 L263.30,706.65 L264.80,706.48 L266.30,706.06 L267.80,705.56 L269.30,705.04 L270.80,704.50 L272.30,703.94 L273.80,703.37 L275.30,702.78 L276.80,702.17 L278.30,701.54 L279.80,700.89 L281.30,700.17 L282.80,699.35 L284.30,698.43 L285.80,697.46 L287.30,696.53 L288.80,695.69 L290.30,694.91 L291.80,694.13 L293.30,693.37 L294.80,692.63 L296.30,691.90 L297.80,691.19 L299.30,690.50 L300.80,689.84 L302.30,689.20 L303.80,688.59 L305.30,688.03 L306.80,687.52 L308.30,687.03 L309.80,686.56 L311.30,686.11 L312.80,685.67 L314.30,685.25 L315.80,684.84 L317.30,684.43 L318.80,684.03 L320.30,683.62 L321.80,683.21 L323.30,682.80 L324.80,682.38 L326.30,681.95 L327.80,681.51 L329.30,681.06 L330.80,680.59 L332.30,680.10 L333.80,679.60 L335.30,679.09 L336.80,678.57 L338.30,678.05 L339.80,677.51 L341.30,676.97 L342.80,676.41 L344.30,675.84 L345.80,675.25 L347.30,674.64 L348.80,674.02 L350.30,673.37 L351.80,672.69 L353.30,671.96 L354.80,671.19 L356.30,670.35 L357.80,669.46 L359.30,668.53 L360.80,667.56 L362.30,666.59 L363.80,665.62 L365.30,664.68 L366.80,663.78 L368.30,662.91 L369.80,662.04 L371.30,661.18 L372.80,660.32 L374.30,659.47 L375.80,658.61 L377.30,657.76 L378.80,656.91 L380.30,656.05 L381.80,655.20 L383.30,654.36 L384.80,653.52 L386.30,652.69 L387.00,652.30" fill="none" stroke="#000000" stroke-width="0.8" stroke-linejoin="round"/>
<path d="M387.00,585.09 L389.00,584.72 L391.00,584.36 L393.00,584.00 L395.00,583.64 L397.00,583.29 L399.00,582.95 L401.00,582.62 L403.00,582.29 L405.00,581.98 L407.00,581.68 L409.00,581.38 L411.00,581.10 L413.00,580.83 L415.00,580.58 L417.00,580.34 L419.00,580.11 L421.00,579.90 L423.00,579.70 L425.00,579.52 L427.00,579.35 L429.00,579.19 L431.00,579.05 L433.00,578.93 L435.00,578.81 L437.00,578.71 L439.00,578.62 L441.00,578.55 L443.00,578.48 L445.00,578.42 L447.00,578.38 L449.00,578.34 L451.00,578.30 L453.00,578.28 L455.00,578.26 L457.00,578.24 L459.00,578.23 L461.00,578.22 L463.00,578.21 L465.00,578.20 L467.00,578.20 L469.00,578.20 L471.00,578.20 L473.00,578.19 L475.00,578.19 L477.00,578.19 L479.00,578.19 L481.00,578.19 L483.00,578.19 L485.00,578.19 L487.00,578.19 L489.00,578.19 L491.00,578.19 L493.00,578.19 L495.00,578.19 L497.00,578.19 L499.00,578.19 L501.00,578.19 L503.00,578.19 L505.00,578.19 L507.00,578.19 L509.00,578.19 L511.00,578.19 L513.00,578.19 L515.00,578.19 L515.30,578.19" fill="none" stroke="#ffa500" stroke-width="0.7" stroke-linejoin="round" stroke-dasharray="3.8 2"/>
<path d="M387.00,618.92 L389.00,617.52 L391.00,616.14 L393.00,614.78 L395.00,613.45 L397.00,612.14 L399.00,610.85 L401.00,609.59 L403.00,608.34 L405.00,607.12 L407.00,605.92 L409.00,604.74 L411.00,603.58 L413.00,602.45 L415.00,601.34 L417.00,600.25 L419.00,599.18 L421.00,598.14 L423.00,597.13 L425.00,596.14 L427.00,595.17 L429.00,594.23 L431.00,593.32 L433.00,592.43 L435.00,591.57 L437.00,590.74 L439.00,589.94 L441.00,589.17 L443.00,588.42 L445.00,587.71 L447.00,587.03 L449.00,586.38 L451.00,585.76 L453.00,585.18 L455.00,584.62 L457.00,584.10 L459.00,583.61 L461.00,583.15 L463.00,582.72 L465.00,582.33 L467.00,581.97 L469.00,581.63 L471.00,581.33 L473.00,581.06 L475.00,580.81 L477.00,580.59 L479.00,580.39 L481.00,580.22 L483.00,580.07 L485.00,579.94 L487.00,579.83 L489.00,579.74 L491.00,579.66 L493.00,579.60 L495.00,579.55 L497.00,579.51 L499.00,579.47 L501.00,579.45 L503.00,579.43 L505.00,579.41 L507.00,579.40 L509.00,579.39 L511.00,579.39 L513.00,579.38 L515.00,579.38 L515.30,579.38" fill="none" stroke="#20b4b4" stroke-width="0.7" stroke-linejoin="round" stroke-dasharray="3.8 2"/>
<path d="M387.00,624.45 L389.00,622.62 L391.00,620.85 L393.00,619.13 L395.00,617.46 L397.00,615.85 L399.00,614.28 L401.00,612.75 L403.00,611.26 L405.00,609.81 L407.00,608.40 L409.00,607.03 L411.00,605.70 L413.00,604.40 L415.00,603.13 L417.00,601.90 L419.00,600.70 L421.00,599.53 L423.00,598.40 L425.00,597.30 L427.00,596.23 L429.00,595.19 L431.00,594.19 L433.00,593.23 L435.00,592.29 L437.00,591.39 L439.00,590.52 L441.00,589.69 L443.00,588.89 L445.00,588.12 L447.00,587.39 L449.00,586.70 L451.00,586.04 L453.00,585.41 L455.00,584.82 L457.00,584.27 L459.00,583.75 L461.00,583.27 L463.00,582.82 L465.00,582.40 L467.00,582.02 L469.00,581.67 L471.00,581.35 L473.00,581.06 L475.00,580.80 L477.00,580.57 L479.00,580.37 L481.00,580.19 L483.00,580.03 L485.00,579.90 L487.00,579.78 L489.00,579.69 L491.00,579.61 L493.00,579.54 L495.00,579.49 L497.00,579.44 L499.00,579.41 L501.00,579.38 L503.00,579.36 L505.00,579.35 L507.00,579.34 L509.00,579.33 L511.00,579.32 L513.00,579.32 L515.00,579.31 L515.30,579.31" fill="none" stroke="#0000ff" stroke-width="0.7" stroke-linejoin="round" stroke-dasharray="3.8 2"/>
<path d="M387.00,585.79 L389.00,585.37 L391.00,584.96 L393.00,584.55 L395.00,584.15 L397.00,583.76 L399.00,583.38 L401.00,583.01 L403.00,582.65 L405.00,582.31 L407.00,581.98 L409.00,581.66 L411.00,581.36 L413.00,581.07 L415.00,580.80 L417.00,580.55 L419.00,580.31 L421.00,580.08 L423.00,579.88 L425.00,579.69 L427.00,579.52 L429.00,579.36 L431.00,579.22 L433.00,579.09 L435.00,578.98 L437.00,578.88 L439.00,578.80 L441.00,578.73 L443.00,578.66 L445.00,578.61 L447.00,578.57 L449.00,578.53 L451.00,578.50 L453.00,578.48 L455.00,578.46 L457.00,578.44 L459.00,578.43 L461.00,578.43 L463.00,578.42 L465.00,578.42 L467.00,578.41 L469.00,578.41 L471.00,578.41 L473.00,578.41 L475.00,578.41 L477.00,578.41 L479.00,578.41 L481.00,578.41 L483.00,578.41 L485.00,578.41 L487.00,578.41 L489.00,578.41 L491.00,578.41 L493.00,578.41 L495.00,578.41 L497.00,578.41 L499.00,578.41 L501.00,578.41 L503.00,578.41 L505.00,578.41 L507.00,578.41 L509.00,578.41 L511.00,578.41 L513.00,578.41 L515.00,578.41 L515.30,578.41" fill="none" stroke="#ff0000" stroke-width="0.7" stroke-linejoin="round" stroke-dasharray="3.8 2"/>
<path d="M387.00,652.35 L389.00,651.31 L391.00,650.26 L393.00,649.19 L395.00,648.12 L397.00,647.04 L399.00,645.96 L401.00,644.86 L403.00,643.76 L405.00,642.65 L407.00,641.54 L409.00,640.42 L411.00,639.29 L413.00,638.16 L415.00,637.03 L417.00,635.89 L419.00,634.75 L421.00,633.61 L423.00,632.46 L425.00,631.32 L427.00,630.17 L429.00,629.02 L431.00,627.87 L433.00,626.73 L435.00,625.58 L437.00,624.44 L439.00,623.29 L441.00,622.15 L443.00,621.02 L445.00,619.88 L447.00,618.76 L449.00,617.63 L451.00,616.52 L453.00,615.41 L455.00,614.30 L457.00,613.20 L459.00,612.12 L461.00,611.04 L463.00,609.97 L465.00,608.91 L467.00,607.86 L469.00,606.82 L471.00,605.80 L473.00,604.78 L475.00,603.78 L477.00,602.80 L479.00,601.83 L481.00,600.88 L483.00,599.95 L485.00,599.03 L487.00,598.13 L489.00,597.25 L491.00,596.40 L493.00,595.56 L495.00,594.74 L497.00,593.95 L499.00,593.18 L501.00,592.44 L503.00,591.72 L505.00,591.03 L507.00,590.36 L509.00,589.72 L511.00,589.11 L513.00,588.53 L514.60,588.08" fill="none" stroke="#000000" stroke-width="0.7" stroke-linejoin="round" stroke-dasharray="3.8 2"/>
</g>
<text x="444.50" y="679.20" font-family="Liberation Sans, sans-serif" font-size="17.2" text-anchor="end">NVE</text>
<path d="M454.2,673.50 H501.9" stroke="#999999" stroke-width="0.8"/>
<text x="444.50" y="696.50" font-family="Liberation Sans, sans-serif" font-size="17.2" text-anchor="end">NVT</text>
<path d="M454.2,690.80 H501.9" stroke="#ffa500" stroke-width="0.8"/>
<text x="444.50" y="711.60" font-family="Liberation Sans, sans-serif" font-size="17.2" text-anchor="end">k<tspan font-size="14.5" dy="5">c</tspan><tspan dy="-5">=1</tspan></text>
<path d="M454.2,708.10 H501.9" stroke="#20b4b4" stroke-width="0.8"/>
<text x="444.50" y="729.10" font-family="Liberation Sans, sans-serif" font-size="17.2" text-anchor="end">k<tspan font-size="14.5" dy="5">c</tspan><tspan dy="-5">=10</tspan></text>
<path d="M454.2,725.40 H501.9" stroke="#0000ff" stroke-width="0.8"/>
<text x="444.50" y="751.70" font-family="Liberation Sans, sans-serif" font-size="17.2" text-anchor="end">2TMD (B,κ)</text>
<path d="M454.2,742.70 H501.9" stroke="#ff0000" stroke-width="0.8"/>
<text x="444.50" y="766.60" font-family="Liberation Sans, sans-serif" font-size="17.2" text-anchor="end">2TMD</text>
<path d="M454.2,760.00 H501.9" stroke="#000000" stroke-width="0.8"/>
<path d="M414.4,737.6 H417.3 M430.3,737.6 H434.0" stroke="#000" stroke-width="0.9"/>
</svg>
</body></html>
